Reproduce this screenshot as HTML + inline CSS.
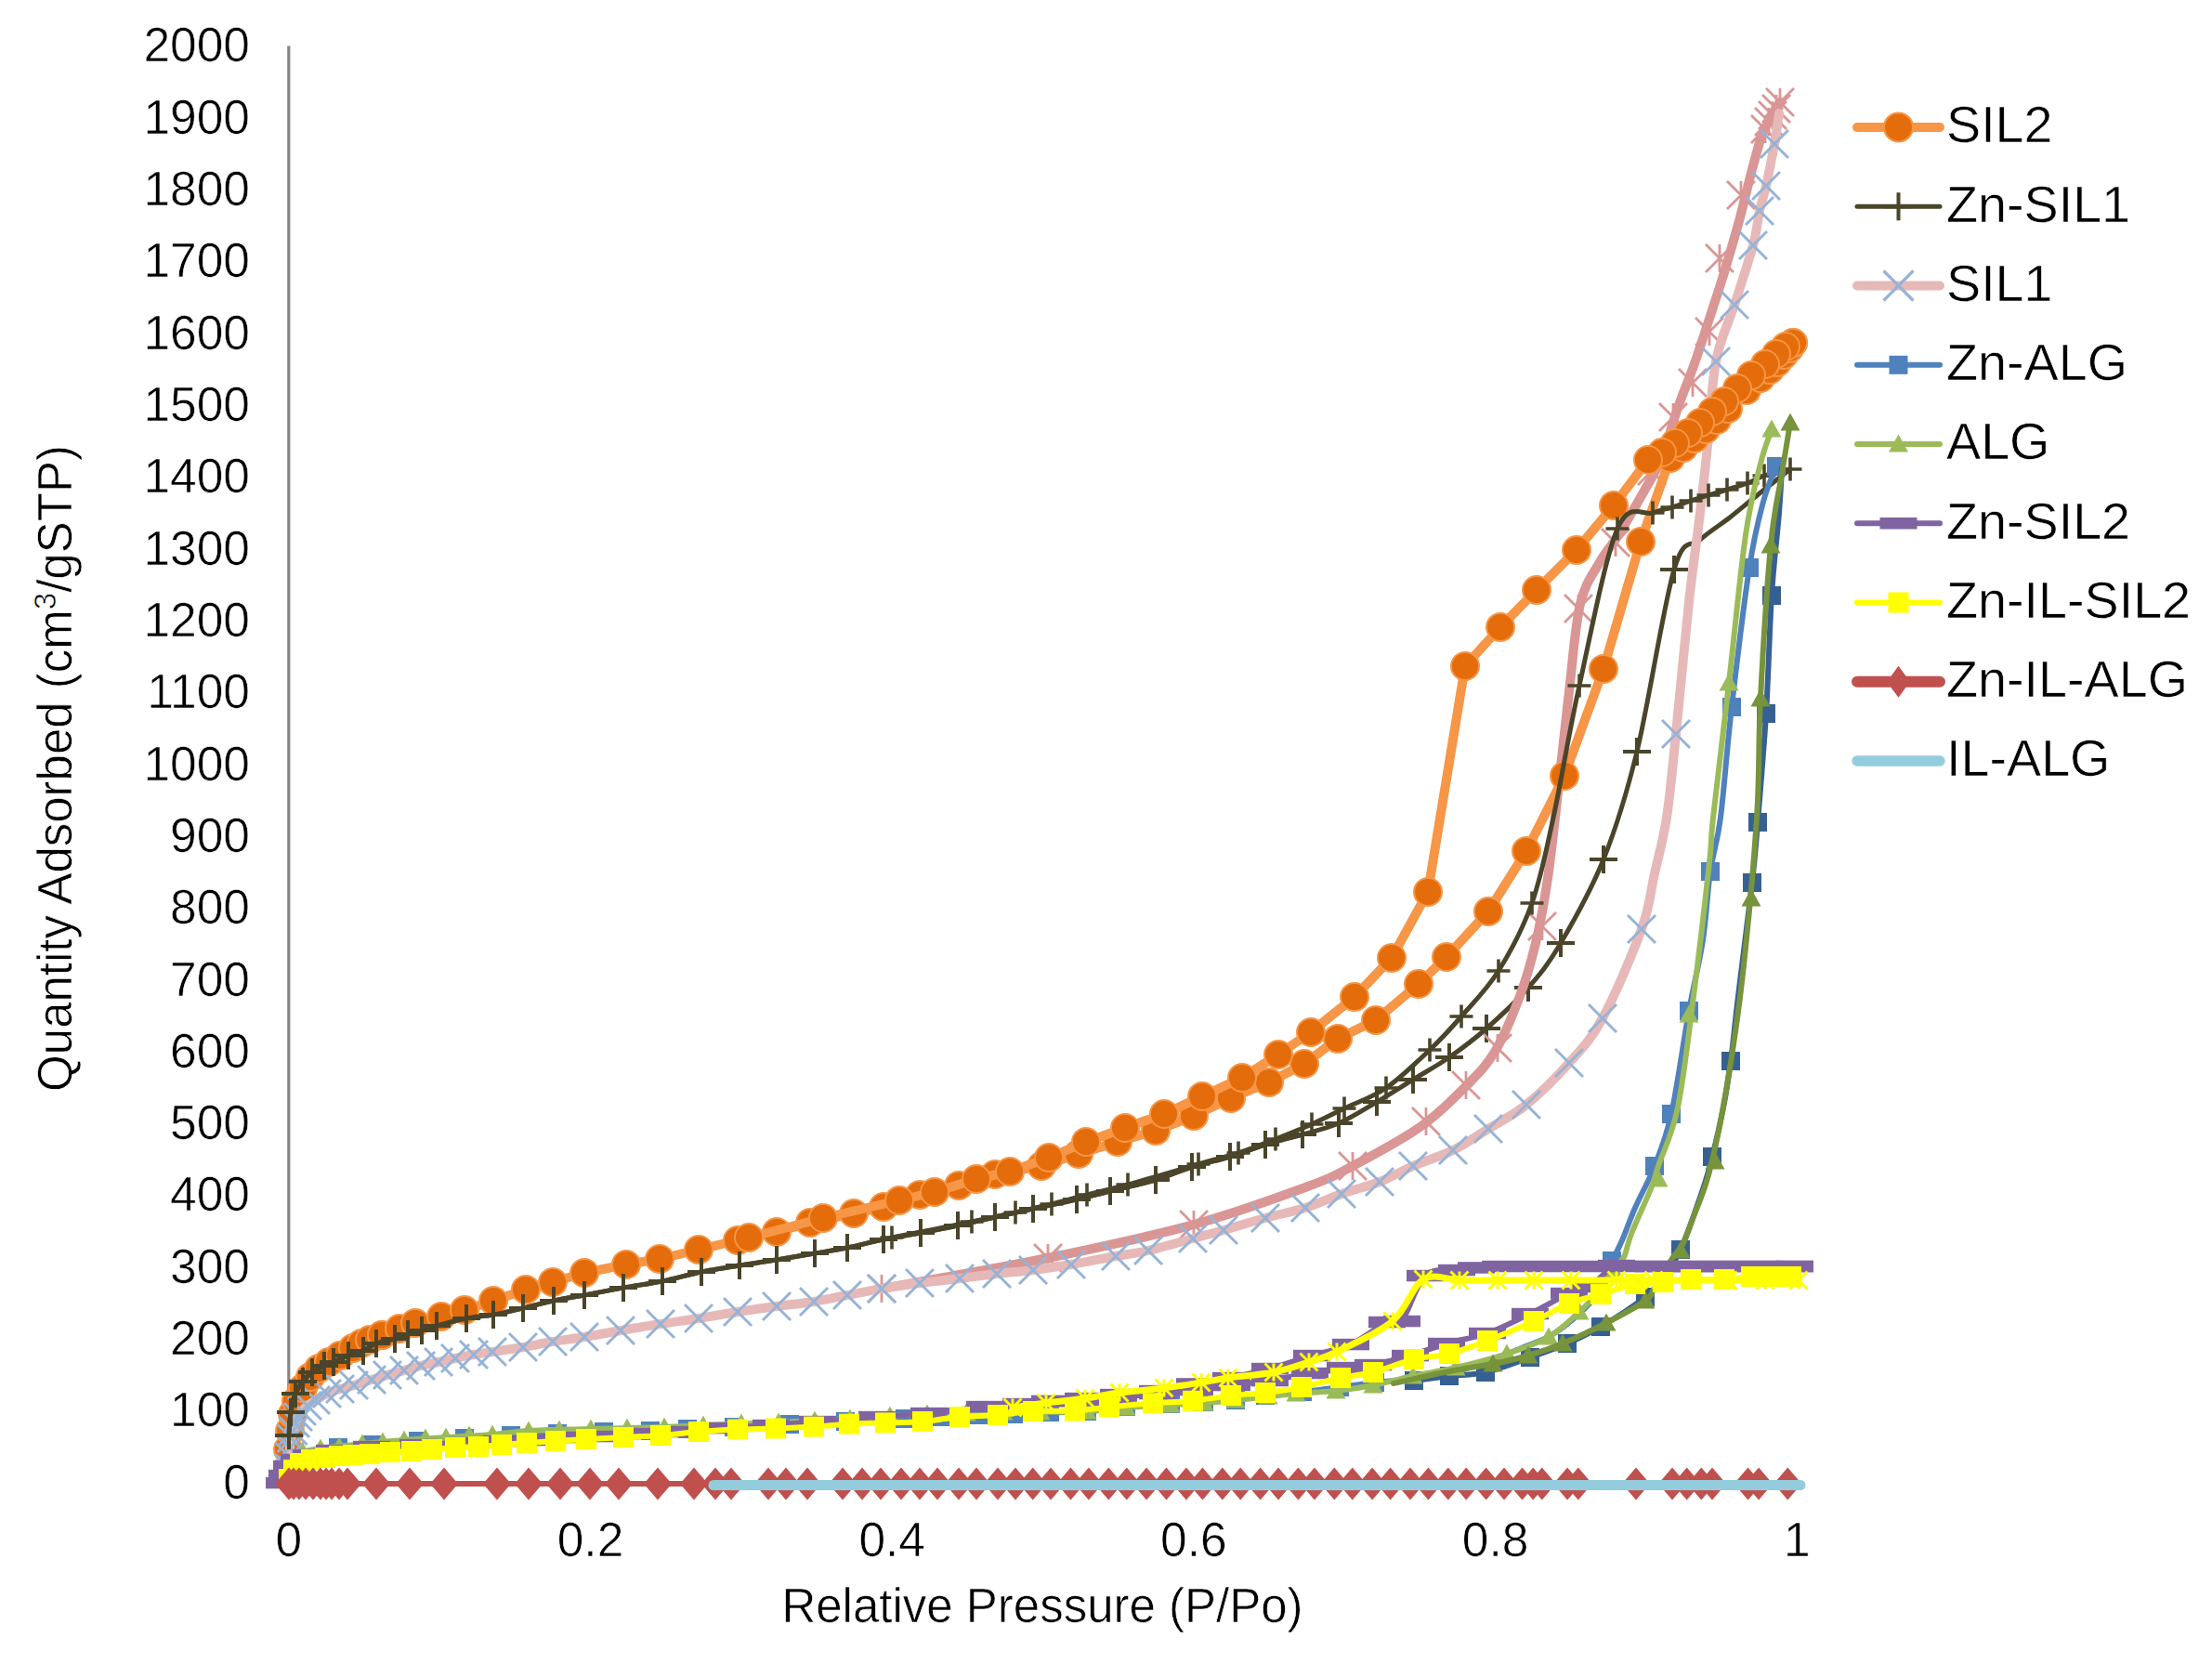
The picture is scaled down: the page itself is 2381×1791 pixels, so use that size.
<!DOCTYPE html><html><head><meta charset="utf-8"><style>html,body{margin:0;padding:0;background:#fff;width:2381px;height:1791px;overflow:hidden}svg{display:block}text{font-family:"Liberation Sans", Arial, sans-serif;fill:#000;stroke:#fff;stroke-width:0.6px}</style></head><body>
<svg width="2381" height="1791" viewBox="0 0 2381 1791">
<rect width="2381" height="1791" fill="#fff"/>
<line x1="310.8" y1="49.6" x2="310.8" y2="1596" stroke="#868686" stroke-width="3.2"/>
<line x1="309" y1="1595.5" x2="1934.5" y2="1595.5" stroke="#868686" stroke-width="3.2"/>
<text x="269" y="1612.7" font-size="51.5" text-anchor="end">0</text>
<text x="269" y="1535.4" font-size="51.5" text-anchor="end">100</text>
<text x="269" y="1458.1" font-size="51.5" text-anchor="end">200</text>
<text x="269" y="1380.8" font-size="51.5" text-anchor="end">300</text>
<text x="269" y="1303.4" font-size="51.5" text-anchor="end">400</text>
<text x="269" y="1226.1" font-size="51.5" text-anchor="end">500</text>
<text x="269" y="1148.8" font-size="51.5" text-anchor="end">600</text>
<text x="269" y="1071.5" font-size="51.5" text-anchor="end">700</text>
<text x="269" y="994.1" font-size="51.5" text-anchor="end">800</text>
<text x="269" y="916.8" font-size="51.5" text-anchor="end">900</text>
<text x="269" y="839.5" font-size="51.5" text-anchor="end">1000</text>
<text x="269" y="762.2" font-size="51.5" text-anchor="end">1100</text>
<text x="269" y="684.8" font-size="51.5" text-anchor="end">1200</text>
<text x="269" y="607.5" font-size="51.5" text-anchor="end">1300</text>
<text x="269" y="530.2" font-size="51.5" text-anchor="end">1400</text>
<text x="269" y="452.9" font-size="51.5" text-anchor="end">1500</text>
<text x="269" y="375.5" font-size="51.5" text-anchor="end">1600</text>
<text x="269" y="298.2" font-size="51.5" text-anchor="end">1700</text>
<text x="269" y="220.9" font-size="51.5" text-anchor="end">1800</text>
<text x="269" y="143.6" font-size="51.5" text-anchor="end">1900</text>
<text x="269" y="66.2" font-size="51.5" text-anchor="end">2000</text>
<text x="310.8" y="1675" font-size="51.5" text-anchor="middle">0</text>
<text x="635.5" y="1675" font-size="51.5" text-anchor="middle">0.2</text>
<text x="960.2" y="1675" font-size="51.5" text-anchor="middle">0.4</text>
<text x="1284.9" y="1675" font-size="51.5" text-anchor="middle">0.6</text>
<text x="1609.6" y="1675" font-size="51.5" text-anchor="middle">0.8</text>
<text x="1934.3" y="1675" font-size="51.5" text-anchor="middle">1</text>
<text x="1122" y="1745.5" font-size="51" text-anchor="middle">Relative Pressure (P/Po)</text>
<text transform="translate(76.8 827) rotate(-90)" font-size="51" text-anchor="middle">Quantity Adsorbed (cm<tspan font-size="33" dy="-17">3</tspan><tspan dy="17">/gSTP)</tspan></text>
<path d="M310 1560 L312 1540 L315 1522 L319 1508 L326 1494 L334 1482 L343 1473 L354 1466 L366 1459 L380 1451 L389 1446 L398 1442 L411 1437" fill="none" stroke="#F79646" stroke-width="10" stroke-linejoin="round" stroke-linecap="round"/>
<circle cx="310" cy="1560" r="15" fill="#E46C0A" stroke="#F79646" stroke-width="2"/>
<circle cx="312" cy="1540" r="15" fill="#E46C0A" stroke="#F79646" stroke-width="2"/>
<circle cx="315" cy="1522" r="15" fill="#E46C0A" stroke="#F79646" stroke-width="2"/>
<circle cx="319" cy="1508" r="15" fill="#E46C0A" stroke="#F79646" stroke-width="2"/>
<circle cx="326" cy="1494" r="15" fill="#E46C0A" stroke="#F79646" stroke-width="2"/>
<circle cx="334" cy="1482" r="15" fill="#E46C0A" stroke="#F79646" stroke-width="2"/>
<circle cx="343" cy="1473" r="15" fill="#E46C0A" stroke="#F79646" stroke-width="2"/>
<circle cx="354" cy="1466" r="15" fill="#E46C0A" stroke="#F79646" stroke-width="2"/>
<circle cx="366" cy="1459" r="15" fill="#E46C0A" stroke="#F79646" stroke-width="2"/>
<circle cx="380" cy="1451" r="15" fill="#E46C0A" stroke="#F79646" stroke-width="2"/>
<circle cx="389" cy="1446" r="15" fill="#E46C0A" stroke="#F79646" stroke-width="2"/>
<circle cx="398" cy="1442" r="15" fill="#E46C0A" stroke="#F79646" stroke-width="2"/>
<circle cx="411" cy="1437" r="15" fill="#E46C0A" stroke="#F79646" stroke-width="2"/>
<path d="M311 1545 C311.3 1540.8 311.8 1527.5 313 1520 C314.2 1512.5 315.8 1505.5 318 1500 C320.2 1494.5 323 1490.8 326 1487 C329 1483.2 332.2 1479.8 336 1477 C339.8 1474.2 345.2 1471.8 349 1470 C352.8 1468.2 354.7 1467.8 359 1466 C363.3 1464.2 369.7 1461 375 1459 C380.3 1457 386 1456.2 391 1454 C396 1451.8 399.3 1448.2 405 1446 C410.7 1443.8 419.3 1442.7 425 1441 C430.7 1439.3 434.2 1437.5 439 1436 C443.8 1434.5 448.8 1433.5 454 1432 C459.2 1430.5 462 1429.2 470 1427 C478 1424.8 491.8 1421 502 1419 C512.2 1417 520.8 1416.8 531 1415 C541.2 1413.2 552.2 1410.5 563 1408 C573.8 1405.5 585 1402.3 596 1400 C607 1397.7 616.5 1396.3 629 1394 C641.5 1391.7 657 1388.5 671 1386 C685 1383.5 699 1381.8 713 1379 C727 1376.2 741.2 1371.8 755 1369 C768.8 1366.2 782.5 1364.2 796 1362 C809.5 1359.8 822.5 1358.2 836 1356 C849.5 1353.8 864.3 1351.2 877 1349 C889.7 1346.8 899.7 1345.5 912 1343 C924.3 1340.5 937.8 1336.7 951 1334 C964.2 1331.3 977.7 1329.5 991 1327 C1004.3 1324.5 1017.7 1321.8 1031 1319 C1044.3 1316.2 1057.5 1313 1071 1310 C1084.5 1307 1097.3 1304.2 1112 1301 C1126.7 1297.8 1145.2 1294.2 1159 1291 C1172.8 1287.8 1180.8 1285.5 1195 1282 C1209.2 1278.5 1229.3 1274.3 1244 1270 C1258.7 1265.7 1269.7 1260.2 1283 1256 C1296.3 1251.8 1310.8 1249 1324 1245 C1337.2 1241 1349 1236 1362 1232 C1375 1228 1388.8 1224.8 1402 1221 C1415.2 1217.2 1427.7 1214.8 1441 1209 C1454.3 1203.2 1468.7 1193.8 1482 1186 C1495.3 1178.2 1508 1170 1521 1162 C1534 1154 1546.8 1147.2 1560 1138 C1573.2 1128.8 1585.8 1119.5 1600 1107 C1614.2 1094.5 1631.7 1078.3 1645 1063 C1658.3 1047.7 1666.5 1038 1680 1015 C1693.5 992 1712.3 959.3 1726 925 C1739.7 890.7 1749.3 861 1762 809 C1774.7 757 1790.7 651 1802 613 C1813.3 575 1820 590.3 1830 581 C1840 571.7 1852.2 564.7 1862 557 C1871.8 549.3 1878.2 543.7 1889 535 C1899.8 526.3 1920.7 510 1927 505" fill="none" stroke="#4A452A" stroke-width="5" stroke-linejoin="round" stroke-linecap="round"/>
<path d="M311 1530v30M296 1545h30" stroke="#4A452A" stroke-width="4" fill="none"/>
<path d="M313 1505v30M298 1520h30" stroke="#4A452A" stroke-width="4" fill="none"/>
<path d="M318 1485v30M303 1500h30" stroke="#4A452A" stroke-width="4" fill="none"/>
<path d="M326 1472v30M311 1487h30" stroke="#4A452A" stroke-width="4" fill="none"/>
<path d="M336 1462v30M321 1477h30" stroke="#4A452A" stroke-width="4" fill="none"/>
<path d="M349 1455v30M334 1470h30" stroke="#4A452A" stroke-width="4" fill="none"/>
<path d="M359 1451v30M344 1466h30" stroke="#4A452A" stroke-width="4" fill="none"/>
<path d="M375 1444v30M360 1459h30" stroke="#4A452A" stroke-width="4" fill="none"/>
<path d="M391 1439v30M376 1454h30" stroke="#4A452A" stroke-width="4" fill="none"/>
<path d="M405 1431v30M390 1446h30" stroke="#4A452A" stroke-width="4" fill="none"/>
<path d="M425 1426v30M410 1441h30" stroke="#4A452A" stroke-width="4" fill="none"/>
<path d="M439 1421v30M424 1436h30" stroke="#4A452A" stroke-width="4" fill="none"/>
<path d="M454 1417v30M439 1432h30" stroke="#4A452A" stroke-width="4" fill="none"/>
<path d="M470 1412v30M455 1427h30" stroke="#4A452A" stroke-width="4" fill="none"/>
<path d="M502 1404v30M487 1419h30" stroke="#4A452A" stroke-width="4" fill="none"/>
<path d="M531 1400v30M516 1415h30" stroke="#4A452A" stroke-width="4" fill="none"/>
<path d="M563 1393v30M548 1408h30" stroke="#4A452A" stroke-width="4" fill="none"/>
<path d="M596 1385v30M581 1400h30" stroke="#4A452A" stroke-width="4" fill="none"/>
<path d="M629 1379v30M614 1394h30" stroke="#4A452A" stroke-width="4" fill="none"/>
<path d="M671 1371v30M656 1386h30" stroke="#4A452A" stroke-width="4" fill="none"/>
<path d="M713 1364v30M698 1379h30" stroke="#4A452A" stroke-width="4" fill="none"/>
<path d="M755 1354v30M740 1369h30" stroke="#4A452A" stroke-width="4" fill="none"/>
<path d="M796 1347v30M781 1362h30" stroke="#4A452A" stroke-width="4" fill="none"/>
<path d="M836 1341v30M821 1356h30" stroke="#4A452A" stroke-width="4" fill="none"/>
<path d="M877 1334v30M862 1349h30" stroke="#4A452A" stroke-width="4" fill="none"/>
<path d="M912 1328v30M897 1343h30" stroke="#4A452A" stroke-width="4" fill="none"/>
<path d="M951 1319v30M936 1334h30" stroke="#4A452A" stroke-width="4" fill="none"/>
<path d="M991 1312v30M976 1327h30" stroke="#4A452A" stroke-width="4" fill="none"/>
<path d="M1031 1304v30M1016 1319h30" stroke="#4A452A" stroke-width="4" fill="none"/>
<path d="M1071 1295v30M1056 1310h30" stroke="#4A452A" stroke-width="4" fill="none"/>
<path d="M1112 1286v30M1097 1301h30" stroke="#4A452A" stroke-width="4" fill="none"/>
<path d="M1159 1276v30M1144 1291h30" stroke="#4A452A" stroke-width="4" fill="none"/>
<path d="M1195 1267v30M1180 1282h30" stroke="#4A452A" stroke-width="4" fill="none"/>
<path d="M1244 1255v30M1229 1270h30" stroke="#4A452A" stroke-width="4" fill="none"/>
<path d="M1283 1241v30M1268 1256h30" stroke="#4A452A" stroke-width="4" fill="none"/>
<path d="M1324 1230v30M1309 1245h30" stroke="#4A452A" stroke-width="4" fill="none"/>
<path d="M1362 1217v30M1347 1232h30" stroke="#4A452A" stroke-width="4" fill="none"/>
<path d="M1402 1206v30M1387 1221h30" stroke="#4A452A" stroke-width="4" fill="none"/>
<path d="M1441 1194v30M1426 1209h30" stroke="#4A452A" stroke-width="4" fill="none"/>
<path d="M1482 1171v30M1467 1186h30" stroke="#4A452A" stroke-width="4" fill="none"/>
<path d="M1521 1147v30M1506 1162h30" stroke="#4A452A" stroke-width="4" fill="none"/>
<path d="M1560 1123v30M1545 1138h30" stroke="#4A452A" stroke-width="4" fill="none"/>
<path d="M1600 1092v30M1585 1107h30" stroke="#4A452A" stroke-width="4" fill="none"/>
<path d="M1645 1048v30M1630 1063h30" stroke="#4A452A" stroke-width="4" fill="none"/>
<path d="M1680 1000v30M1665 1015h30" stroke="#4A452A" stroke-width="4" fill="none"/>
<path d="M1726 910v30M1711 925h30" stroke="#4A452A" stroke-width="4" fill="none"/>
<path d="M1762 794v30M1747 809h30" stroke="#4A452A" stroke-width="4" fill="none"/>
<path d="M1802 598v30M1787 613h30" stroke="#4A452A" stroke-width="4" fill="none"/>
<path d="M1916 110 C1915.3 111 1913.5 113.7 1912 116 C1910.5 118.3 1909 120.3 1907 124 C1905 127.7 1902 133.7 1900 138 C1898 142.3 1897.5 142 1895 150 C1892.5 158 1888.7 172 1885 186 C1881.3 200 1877.3 217.8 1873 234 C1868.7 250.2 1862.5 271 1859 283 C1855.5 295 1855.3 295.5 1852 306 C1848.7 316.5 1843.8 331.3 1839 346 C1834.2 360.7 1828.5 378.5 1823 394 C1817.5 409.5 1811.8 422.3 1806 439 C1800.2 455.7 1794 479.2 1788 494 C1782 508.8 1777.7 514.3 1770 528 C1762.3 541.7 1750 563.2 1742 576 C1734 588.8 1728.8 592.7 1722 605 C1715.2 617.3 1706.5 626.8 1701 650 C1695.5 673.2 1693.5 705.7 1689 744 C1684.5 782.3 1678 845.3 1674 880 C1670 914.7 1668.5 929.5 1665 952 C1661.5 974.5 1657.8 995 1653 1015 C1648.2 1035 1643.3 1052.5 1636 1072 C1628.7 1091.5 1618.7 1115.8 1609 1132 C1599.3 1148.2 1591.2 1155.7 1578 1169 C1564.8 1182.3 1550.3 1197.7 1530 1212 C1509.7 1226.3 1476.8 1244 1456 1255 C1435.2 1266 1433.5 1267.5 1405 1278 C1376.5 1288.5 1331.2 1305.3 1285 1318 C1238.8 1330.7 1184 1342.5 1128 1354 C1072 1365.5 978.8 1381.5 949 1387" fill="none" stroke="#D99694" stroke-width="10" stroke-linejoin="round" stroke-linecap="round"/>
<path d="M1901 95l30 30M1901 125l30 -30M1916 95v30" stroke="#D99694" stroke-width="2.8" fill="none"/>
<path d="M1897 102l30 30M1897 132l30 -30M1912 102v30" stroke="#D99694" stroke-width="2.8" fill="none"/>
<path d="M1893 109l30 30M1893 139l30 -30M1908 109v30" stroke="#D99694" stroke-width="2.8" fill="none"/>
<path d="M1889 116l30 30M1889 146l30 -30M1904 116v30" stroke="#D99694" stroke-width="2.8" fill="none"/>
<path d="M1885 124l30 30M1885 154l30 -30M1900 124v30" stroke="#D99694" stroke-width="2.8" fill="none"/>
<path d="M1859 195l30 30M1859 225l30 -30M1874 195v30" stroke="#D99694" stroke-width="2.8" fill="none"/>
<path d="M1836 263l30 30M1836 293l30 -30M1851 263v30" stroke="#D99694" stroke-width="2.8" fill="none"/>
<path d="M1825 342l30 30M1825 372l30 -30M1840 342v30" stroke="#D99694" stroke-width="2.8" fill="none"/>
<path d="M1807 397l30 30M1807 427l30 -30M1822 397v30" stroke="#D99694" stroke-width="2.8" fill="none"/>
<path d="M1786 434l30 30M1786 464l30 -30M1801 434v30" stroke="#D99694" stroke-width="2.8" fill="none"/>
<path d="M1763 492l30 30M1763 522l30 -30M1778 492v30" stroke="#D99694" stroke-width="2.8" fill="none"/>
<path d="M1724 569l30 30M1724 599l30 -30M1739 569v30" stroke="#D99694" stroke-width="2.8" fill="none"/>
<path d="M1684 640l30 30M1684 670l30 -30M1699 640v30" stroke="#D99694" stroke-width="2.8" fill="none"/>
<path d="M1645 982l30 30M1645 1012l30 -30M1660 982v30" stroke="#D99694" stroke-width="2.8" fill="none"/>
<path d="M1597 1113l30 30M1597 1143l30 -30M1612 1113v30" stroke="#D99694" stroke-width="2.8" fill="none"/>
<path d="M1563 1153l30 30M1563 1183l30 -30M1578 1153v30" stroke="#D99694" stroke-width="2.8" fill="none"/>
<path d="M1520 1192l30 30M1520 1222l30 -30M1535 1192v30" stroke="#D99694" stroke-width="2.8" fill="none"/>
<path d="M1441 1240l30 30M1441 1270l30 -30M1456 1240v30" stroke="#D99694" stroke-width="2.8" fill="none"/>
<path d="M1270 1303l30 30M1270 1333l30 -30M1285 1303v30" stroke="#D99694" stroke-width="2.8" fill="none"/>
<path d="M1113 1339l30 30M1113 1369l30 -30M1128 1339v30" stroke="#D99694" stroke-width="2.8" fill="none"/>
<path d="M934 1372l30 30M934 1402l30 -30M949 1372v30" stroke="#D99694" stroke-width="2.8" fill="none"/>
<path d="M311 1580 C311.1 1578 311.3 1571.7 311.5 1568 C311.7 1564.3 311.7 1561.3 312 1558 C312.3 1554.7 312.9 1551 313.5 1548 C314.1 1545 314.8 1542.7 315.5 1540 C316.2 1537.3 317.1 1534.5 318 1532 C318.9 1529.5 319.8 1527.2 321 1525 C322.2 1522.8 323.3 1521 325 1519 C326.7 1517 328.5 1515 331 1513 C333.5 1511 336.5 1509.2 340 1507 C343.5 1504.8 347.7 1502 352 1500 C356.3 1498 361.2 1496.5 366 1495 C370.8 1493.5 375.3 1492.7 381 1491 C386.7 1489.3 394 1486.8 400 1485 C406 1483.2 411.2 1481.7 417 1480 C422.8 1478.3 429 1476.7 435 1475 C441 1473.3 446.8 1471.5 453 1470 C459.2 1468.5 465.8 1467.3 472 1466 C478.2 1464.7 483.7 1463.3 490 1462 C496.3 1460.7 503.3 1459.2 510 1458 C516.7 1456.8 521.2 1456.3 530 1455 C538.8 1453.7 552.2 1451.8 563 1450 C573.8 1448.2 584 1445.8 595 1444 C606 1442.2 616.8 1441 629 1439 C641.2 1437 654.3 1434.3 668 1432 C681.7 1429.7 697 1427.2 711 1425 C725 1422.8 738.2 1421.2 752 1419 C765.8 1416.8 780 1414.2 794 1412 C808 1409.8 822.3 1407.8 836 1406 C849.7 1404.2 863.3 1403 876 1401 C888.7 1399 899.8 1396.3 912 1394 C924.2 1391.7 936 1389.2 949 1387 C962 1384.8 976 1382.8 990 1381 C1004 1379.2 1019.2 1377.7 1033 1376 C1046.8 1374.3 1059.8 1372.5 1073 1371 C1086.2 1369.5 1098.7 1368.7 1112 1367 C1125.3 1365.3 1138.2 1363.5 1153 1361 C1167.8 1358.5 1187.2 1354.5 1201 1352 C1214.8 1349.5 1222.2 1349.2 1236 1346 C1249.8 1342.8 1270.5 1336.7 1284 1333 C1297.5 1329.3 1304 1327.7 1317 1324 C1330 1320.3 1347.3 1315 1362 1311 C1376.7 1307 1391.3 1304.3 1405 1300 C1418.7 1295.7 1430.7 1289.7 1444 1285 C1457.3 1280.3 1472.2 1277 1485 1272 C1497.8 1267 1507.8 1260.7 1521 1255 C1534.2 1249.3 1550.5 1244.7 1564 1238 C1577.5 1231.3 1588.8 1223.2 1602 1215 C1615.2 1206.8 1628.5 1200.8 1643 1189 C1657.5 1177.2 1675.3 1159.5 1689 1144 C1702.7 1128.5 1712 1120 1725 1096 C1738 1072 1757.7 1026 1767 1000 C1776.3 974 1776.5 960 1781 940 C1785.5 920 1790.2 905 1794 880 C1797.8 855 1800 828.7 1804 790 C1808 751.3 1813.7 687.7 1818 648 C1822.3 608.3 1826.7 580 1830 552 C1833.3 524 1835.2 507.2 1838 480 C1840.8 452.8 1842.2 414.3 1847 389 C1851.8 363.7 1860.3 348.8 1867 328 C1873.7 307.2 1882.5 280.8 1887 264 C1891.5 247.2 1891.7 237.7 1894 227 C1896.3 216.3 1898.3 212 1901 200 C1903.7 188 1907.7 168 1910 155 C1912.3 142 1914.2 127.5 1915 122" fill="none" stroke="#E6B9B8" stroke-width="10" stroke-linejoin="round" stroke-linecap="round"/>
<path d="M296 1565l30 30M296 1595l30 -30" stroke="#95B3D7" stroke-width="2.9" fill="none"/>
<path d="M296.5 1553l30 30M296.5 1583l30 -30" stroke="#95B3D7" stroke-width="2.9" fill="none"/>
<path d="M297 1543l30 30M297 1573l30 -30" stroke="#95B3D7" stroke-width="2.9" fill="none"/>
<path d="M298.5 1533l30 30M298.5 1563l30 -30" stroke="#95B3D7" stroke-width="2.9" fill="none"/>
<path d="M300.5 1525l30 30M300.5 1555l30 -30" stroke="#95B3D7" stroke-width="2.9" fill="none"/>
<path d="M303 1517l30 30M303 1547l30 -30" stroke="#95B3D7" stroke-width="2.9" fill="none"/>
<path d="M306 1510l30 30M306 1540l30 -30" stroke="#95B3D7" stroke-width="2.9" fill="none"/>
<path d="M310 1504l30 30M310 1534l30 -30" stroke="#95B3D7" stroke-width="2.9" fill="none"/>
<path d="M316 1498l30 30M316 1528l30 -30" stroke="#95B3D7" stroke-width="2.9" fill="none"/>
<path d="M325 1492l30 30M325 1522l30 -30" stroke="#95B3D7" stroke-width="2.9" fill="none"/>
<path d="M337 1485l30 30M337 1515l30 -30" stroke="#95B3D7" stroke-width="2.9" fill="none"/>
<path d="M351 1480l30 30M351 1510l30 -30" stroke="#95B3D7" stroke-width="2.9" fill="none"/>
<path d="M366 1476l30 30M366 1506l30 -30" stroke="#95B3D7" stroke-width="2.9" fill="none"/>
<path d="M385 1470l30 30M385 1500l30 -30" stroke="#95B3D7" stroke-width="2.9" fill="none"/>
<path d="M402 1465l30 30M402 1495l30 -30" stroke="#95B3D7" stroke-width="2.9" fill="none"/>
<path d="M420 1460l30 30M420 1490l30 -30" stroke="#95B3D7" stroke-width="2.9" fill="none"/>
<path d="M438 1455l30 30M438 1485l30 -30" stroke="#95B3D7" stroke-width="2.9" fill="none"/>
<path d="M457 1451l30 30M457 1481l30 -30" stroke="#95B3D7" stroke-width="2.9" fill="none"/>
<path d="M475 1447l30 30M475 1477l30 -30" stroke="#95B3D7" stroke-width="2.9" fill="none"/>
<path d="M495 1443l30 30M495 1473l30 -30" stroke="#95B3D7" stroke-width="2.9" fill="none"/>
<path d="M515 1440l30 30M515 1470l30 -30" stroke="#95B3D7" stroke-width="2.9" fill="none"/>
<path d="M548 1435l30 30M548 1465l30 -30" stroke="#95B3D7" stroke-width="2.9" fill="none"/>
<path d="M580 1429l30 30M580 1459l30 -30" stroke="#95B3D7" stroke-width="2.9" fill="none"/>
<path d="M614 1424l30 30M614 1454l30 -30" stroke="#95B3D7" stroke-width="2.9" fill="none"/>
<path d="M653 1417l30 30M653 1447l30 -30" stroke="#95B3D7" stroke-width="2.9" fill="none"/>
<path d="M696 1410l30 30M696 1440l30 -30" stroke="#95B3D7" stroke-width="2.9" fill="none"/>
<path d="M737 1404l30 30M737 1434l30 -30" stroke="#95B3D7" stroke-width="2.9" fill="none"/>
<path d="M779 1397l30 30M779 1427l30 -30" stroke="#95B3D7" stroke-width="2.9" fill="none"/>
<path d="M821 1391l30 30M821 1421l30 -30" stroke="#95B3D7" stroke-width="2.9" fill="none"/>
<path d="M861 1386l30 30M861 1416l30 -30" stroke="#95B3D7" stroke-width="2.9" fill="none"/>
<path d="M897 1379l30 30M897 1409l30 -30" stroke="#95B3D7" stroke-width="2.9" fill="none"/>
<path d="M934 1372l30 30M934 1402l30 -30" stroke="#95B3D7" stroke-width="2.9" fill="none"/>
<path d="M975 1366l30 30M975 1396l30 -30" stroke="#95B3D7" stroke-width="2.9" fill="none"/>
<path d="M1018 1361l30 30M1018 1391l30 -30" stroke="#95B3D7" stroke-width="2.9" fill="none"/>
<path d="M1058 1356l30 30M1058 1386l30 -30" stroke="#95B3D7" stroke-width="2.9" fill="none"/>
<path d="M1097 1352l30 30M1097 1382l30 -30" stroke="#95B3D7" stroke-width="2.9" fill="none"/>
<path d="M1138 1346l30 30M1138 1376l30 -30" stroke="#95B3D7" stroke-width="2.9" fill="none"/>
<path d="M1186 1337l30 30M1186 1367l30 -30" stroke="#95B3D7" stroke-width="2.9" fill="none"/>
<path d="M1221 1331l30 30M1221 1361l30 -30" stroke="#95B3D7" stroke-width="2.9" fill="none"/>
<path d="M1269 1318l30 30M1269 1348l30 -30" stroke="#95B3D7" stroke-width="2.9" fill="none"/>
<path d="M1302 1309l30 30M1302 1339l30 -30" stroke="#95B3D7" stroke-width="2.9" fill="none"/>
<path d="M1347 1296l30 30M1347 1326l30 -30" stroke="#95B3D7" stroke-width="2.9" fill="none"/>
<path d="M1390 1285l30 30M1390 1315l30 -30" stroke="#95B3D7" stroke-width="2.9" fill="none"/>
<path d="M1429 1270l30 30M1429 1300l30 -30" stroke="#95B3D7" stroke-width="2.9" fill="none"/>
<path d="M1470 1257l30 30M1470 1287l30 -30" stroke="#95B3D7" stroke-width="2.9" fill="none"/>
<path d="M1506 1240l30 30M1506 1270l30 -30" stroke="#95B3D7" stroke-width="2.9" fill="none"/>
<path d="M1549 1223l30 30M1549 1253l30 -30" stroke="#95B3D7" stroke-width="2.9" fill="none"/>
<path d="M1587 1200l30 30M1587 1230l30 -30" stroke="#95B3D7" stroke-width="2.9" fill="none"/>
<path d="M1628 1174l30 30M1628 1204l30 -30" stroke="#95B3D7" stroke-width="2.9" fill="none"/>
<path d="M1674 1129l30 30M1674 1159l30 -30" stroke="#95B3D7" stroke-width="2.9" fill="none"/>
<path d="M1710 1081l30 30M1710 1111l30 -30" stroke="#95B3D7" stroke-width="2.9" fill="none"/>
<path d="M1752 985l30 30M1752 1015l30 -30" stroke="#95B3D7" stroke-width="2.9" fill="none"/>
<path d="M1789 775l30 30M1789 805l30 -30" stroke="#95B3D7" stroke-width="2.9" fill="none"/>
<path d="M1832 374l30 30M1832 404l30 -30" stroke="#95B3D7" stroke-width="2.9" fill="none"/>
<path d="M1852 313l30 30M1852 343l30 -30" stroke="#95B3D7" stroke-width="2.9" fill="none"/>
<path d="M1872 249l30 30M1872 279l30 -30" stroke="#95B3D7" stroke-width="2.9" fill="none"/>
<path d="M1879 212l30 30M1879 242l30 -30" stroke="#95B3D7" stroke-width="2.9" fill="none"/>
<path d="M1886 185l30 30M1886 215l30 -30" stroke="#95B3D7" stroke-width="2.9" fill="none"/>
<path d="M1895 140l30 30M1895 170l30 -30" stroke="#95B3D7" stroke-width="2.9" fill="none"/>
<path d="M411 1437 L430 1430 L447 1424 L475 1417 L500 1410 L531 1400 L566 1388 L595 1380 L629 1370 L674 1361 L710 1355 L752 1345 L794 1335 L836 1326 L872 1316 L919 1306 L951 1299 L990 1286 L1032 1276 L1071 1264 L1121 1255 L1161 1242 L1203 1229 L1244 1217 L1285 1201 L1325 1182 L1366 1165 L1404 1145 L1440 1118 L1481 1098 L1527 1059 L1557 1030 L1602 981 L1643 916 L1684 835 L1726 720 L1766 583 L1798 493 L1812 482 L1824 472 L1836 462 L1848 452 L1860 440 L1880 420 L1895 407 L1905 398 L1913 390 L1920 382 L1926 375 L1930 369" fill="none" stroke="#F79646" stroke-width="10" stroke-linejoin="round" stroke-linecap="round"/>
<circle cx="411" cy="1437" r="15" fill="#E46C0A" stroke="#F79646" stroke-width="2"/>
<circle cx="430" cy="1430" r="15" fill="#E46C0A" stroke="#F79646" stroke-width="2"/>
<circle cx="447" cy="1424" r="15" fill="#E46C0A" stroke="#F79646" stroke-width="2"/>
<circle cx="475" cy="1417" r="15" fill="#E46C0A" stroke="#F79646" stroke-width="2"/>
<circle cx="500" cy="1410" r="15" fill="#E46C0A" stroke="#F79646" stroke-width="2"/>
<circle cx="531" cy="1400" r="15" fill="#E46C0A" stroke="#F79646" stroke-width="2"/>
<circle cx="566" cy="1388" r="15" fill="#E46C0A" stroke="#F79646" stroke-width="2"/>
<circle cx="595" cy="1380" r="15" fill="#E46C0A" stroke="#F79646" stroke-width="2"/>
<circle cx="629" cy="1370" r="15" fill="#E46C0A" stroke="#F79646" stroke-width="2"/>
<circle cx="674" cy="1361" r="15" fill="#E46C0A" stroke="#F79646" stroke-width="2"/>
<circle cx="710" cy="1355" r="15" fill="#E46C0A" stroke="#F79646" stroke-width="2"/>
<circle cx="752" cy="1345" r="15" fill="#E46C0A" stroke="#F79646" stroke-width="2"/>
<circle cx="794" cy="1335" r="15" fill="#E46C0A" stroke="#F79646" stroke-width="2"/>
<circle cx="836" cy="1326" r="15" fill="#E46C0A" stroke="#F79646" stroke-width="2"/>
<circle cx="872" cy="1316" r="15" fill="#E46C0A" stroke="#F79646" stroke-width="2"/>
<circle cx="919" cy="1306" r="15" fill="#E46C0A" stroke="#F79646" stroke-width="2"/>
<circle cx="951" cy="1299" r="15" fill="#E46C0A" stroke="#F79646" stroke-width="2"/>
<circle cx="990" cy="1286" r="15" fill="#E46C0A" stroke="#F79646" stroke-width="2"/>
<circle cx="1032" cy="1276" r="15" fill="#E46C0A" stroke="#F79646" stroke-width="2"/>
<circle cx="1071" cy="1264" r="15" fill="#E46C0A" stroke="#F79646" stroke-width="2"/>
<circle cx="1121" cy="1255" r="15" fill="#E46C0A" stroke="#F79646" stroke-width="2"/>
<circle cx="1161" cy="1242" r="15" fill="#E46C0A" stroke="#F79646" stroke-width="2"/>
<circle cx="1203" cy="1229" r="15" fill="#E46C0A" stroke="#F79646" stroke-width="2"/>
<circle cx="1244" cy="1217" r="15" fill="#E46C0A" stroke="#F79646" stroke-width="2"/>
<circle cx="1285" cy="1201" r="15" fill="#E46C0A" stroke="#F79646" stroke-width="2"/>
<circle cx="1325" cy="1182" r="15" fill="#E46C0A" stroke="#F79646" stroke-width="2"/>
<circle cx="1366" cy="1165" r="15" fill="#E46C0A" stroke="#F79646" stroke-width="2"/>
<circle cx="1404" cy="1145" r="15" fill="#E46C0A" stroke="#F79646" stroke-width="2"/>
<circle cx="1440" cy="1118" r="15" fill="#E46C0A" stroke="#F79646" stroke-width="2"/>
<circle cx="1481" cy="1098" r="15" fill="#E46C0A" stroke="#F79646" stroke-width="2"/>
<circle cx="1527" cy="1059" r="15" fill="#E46C0A" stroke="#F79646" stroke-width="2"/>
<circle cx="1557" cy="1030" r="15" fill="#E46C0A" stroke="#F79646" stroke-width="2"/>
<circle cx="1602" cy="981" r="15" fill="#E46C0A" stroke="#F79646" stroke-width="2"/>
<circle cx="1643" cy="916" r="15" fill="#E46C0A" stroke="#F79646" stroke-width="2"/>
<circle cx="1684" cy="835" r="15" fill="#E46C0A" stroke="#F79646" stroke-width="2"/>
<circle cx="1726" cy="720" r="15" fill="#E46C0A" stroke="#F79646" stroke-width="2"/>
<circle cx="1766" cy="583" r="15" fill="#E46C0A" stroke="#F79646" stroke-width="2"/>
<circle cx="1798" cy="493" r="15" fill="#E46C0A" stroke="#F79646" stroke-width="2"/>
<circle cx="1812" cy="482" r="15" fill="#E46C0A" stroke="#F79646" stroke-width="2"/>
<circle cx="1824" cy="472" r="15" fill="#E46C0A" stroke="#F79646" stroke-width="2"/>
<circle cx="1836" cy="462" r="15" fill="#E46C0A" stroke="#F79646" stroke-width="2"/>
<circle cx="1848" cy="452" r="15" fill="#E46C0A" stroke="#F79646" stroke-width="2"/>
<circle cx="1860" cy="440" r="15" fill="#E46C0A" stroke="#F79646" stroke-width="2"/>
<circle cx="1880" cy="420" r="15" fill="#E46C0A" stroke="#F79646" stroke-width="2"/>
<circle cx="1895" cy="407" r="15" fill="#E46C0A" stroke="#F79646" stroke-width="2"/>
<circle cx="1905" cy="398" r="15" fill="#E46C0A" stroke="#F79646" stroke-width="2"/>
<circle cx="1913" cy="390" r="15" fill="#E46C0A" stroke="#F79646" stroke-width="2"/>
<circle cx="1920" cy="382" r="15" fill="#E46C0A" stroke="#F79646" stroke-width="2"/>
<circle cx="1926" cy="375" r="15" fill="#E46C0A" stroke="#F79646" stroke-width="2"/>
<circle cx="1930" cy="369" r="15" fill="#E46C0A" stroke="#F79646" stroke-width="2"/>
<path d="M1930 369 L1922 373 L1912 381 L1900 392 L1885 404 L1870 418 L1856 432 L1843 443 L1830 455 L1817 466 L1803 477 L1789 487 L1774 495 L1737 544 L1697 592 L1654 635 L1615 675 L1577 717 L1537 960 L1498 1031 L1458 1073 L1411 1111 L1376 1135 L1337 1160 L1294 1180 L1253 1199 L1211 1214 L1169 1229 L1129 1246 L1087 1261 L1051 1269 L1006 1283 L968 1292 L886 1311 L806 1332" fill="none" stroke="#F79646" stroke-width="10" stroke-linejoin="round" stroke-linecap="round"/>
<circle cx="1930" cy="369" r="15" fill="#E46C0A" stroke="#F79646" stroke-width="2"/>
<circle cx="1922" cy="373" r="15" fill="#E46C0A" stroke="#F79646" stroke-width="2"/>
<circle cx="1912" cy="381" r="15" fill="#E46C0A" stroke="#F79646" stroke-width="2"/>
<circle cx="1900" cy="392" r="15" fill="#E46C0A" stroke="#F79646" stroke-width="2"/>
<circle cx="1885" cy="404" r="15" fill="#E46C0A" stroke="#F79646" stroke-width="2"/>
<circle cx="1870" cy="418" r="15" fill="#E46C0A" stroke="#F79646" stroke-width="2"/>
<circle cx="1856" cy="432" r="15" fill="#E46C0A" stroke="#F79646" stroke-width="2"/>
<circle cx="1843" cy="443" r="15" fill="#E46C0A" stroke="#F79646" stroke-width="2"/>
<circle cx="1830" cy="455" r="15" fill="#E46C0A" stroke="#F79646" stroke-width="2"/>
<circle cx="1817" cy="466" r="15" fill="#E46C0A" stroke="#F79646" stroke-width="2"/>
<circle cx="1803" cy="477" r="15" fill="#E46C0A" stroke="#F79646" stroke-width="2"/>
<circle cx="1789" cy="487" r="15" fill="#E46C0A" stroke="#F79646" stroke-width="2"/>
<circle cx="1774" cy="495" r="15" fill="#E46C0A" stroke="#F79646" stroke-width="2"/>
<circle cx="1737" cy="544" r="15" fill="#E46C0A" stroke="#F79646" stroke-width="2"/>
<circle cx="1697" cy="592" r="15" fill="#E46C0A" stroke="#F79646" stroke-width="2"/>
<circle cx="1654" cy="635" r="15" fill="#E46C0A" stroke="#F79646" stroke-width="2"/>
<circle cx="1615" cy="675" r="15" fill="#E46C0A" stroke="#F79646" stroke-width="2"/>
<circle cx="1577" cy="717" r="15" fill="#E46C0A" stroke="#F79646" stroke-width="2"/>
<circle cx="1537" cy="960" r="15" fill="#E46C0A" stroke="#F79646" stroke-width="2"/>
<circle cx="1498" cy="1031" r="15" fill="#E46C0A" stroke="#F79646" stroke-width="2"/>
<circle cx="1458" cy="1073" r="15" fill="#E46C0A" stroke="#F79646" stroke-width="2"/>
<circle cx="1411" cy="1111" r="15" fill="#E46C0A" stroke="#F79646" stroke-width="2"/>
<circle cx="1376" cy="1135" r="15" fill="#E46C0A" stroke="#F79646" stroke-width="2"/>
<circle cx="1337" cy="1160" r="15" fill="#E46C0A" stroke="#F79646" stroke-width="2"/>
<circle cx="1294" cy="1180" r="15" fill="#E46C0A" stroke="#F79646" stroke-width="2"/>
<circle cx="1253" cy="1199" r="15" fill="#E46C0A" stroke="#F79646" stroke-width="2"/>
<circle cx="1211" cy="1214" r="15" fill="#E46C0A" stroke="#F79646" stroke-width="2"/>
<circle cx="1169" cy="1229" r="15" fill="#E46C0A" stroke="#F79646" stroke-width="2"/>
<circle cx="1129" cy="1246" r="15" fill="#E46C0A" stroke="#F79646" stroke-width="2"/>
<circle cx="1087" cy="1261" r="15" fill="#E46C0A" stroke="#F79646" stroke-width="2"/>
<circle cx="1051" cy="1269" r="15" fill="#E46C0A" stroke="#F79646" stroke-width="2"/>
<circle cx="1006" cy="1283" r="15" fill="#E46C0A" stroke="#F79646" stroke-width="2"/>
<circle cx="968" cy="1292" r="15" fill="#E46C0A" stroke="#F79646" stroke-width="2"/>
<circle cx="886" cy="1311" r="15" fill="#E46C0A" stroke="#F79646" stroke-width="2"/>
<circle cx="806" cy="1332" r="15" fill="#E46C0A" stroke="#F79646" stroke-width="2"/>
<path d="M311 1545 C311.3 1540.8 311.8 1527.5 313 1520 C314.2 1512.5 315.8 1505.5 318 1500 C320.2 1494.5 323 1490.8 326 1487 C329 1483.2 332.2 1479.8 336 1477 C339.8 1474.2 345.2 1471.8 349 1470 C352.8 1468.2 354.7 1467.8 359 1466 C363.3 1464.2 369.7 1461 375 1459 C380.3 1457 386 1456.2 391 1454 C396 1451.8 399.3 1448.2 405 1446 C410.7 1443.8 419.3 1442.7 425 1441 C430.7 1439.3 434.2 1437.5 439 1436 C443.8 1434.5 448.8 1433.5 454 1432 C459.2 1430.5 462 1429.2 470 1427 C478 1424.8 491.8 1421 502 1419 C512.2 1417 520.8 1416.8 531 1415 C541.2 1413.2 552.2 1410.5 563 1408 C573.8 1405.5 585 1402.3 596 1400 C607 1397.7 616.5 1396.3 629 1394 C641.5 1391.7 657 1388.5 671 1386 C685 1383.5 699 1381.8 713 1379 C727 1376.2 741.2 1371.8 755 1369 C768.8 1366.2 782.5 1364.2 796 1362 C809.5 1359.8 822.5 1358.2 836 1356 C849.5 1353.8 864.3 1351.2 877 1349 C889.7 1346.8 899.7 1345.5 912 1343 C924.3 1340.5 937.8 1336.7 951 1334 C964.2 1331.3 977.7 1329.5 991 1327 C1004.3 1324.5 1017.7 1321.8 1031 1319 C1044.3 1316.2 1057.5 1313 1071 1310 C1084.5 1307 1097.3 1304.2 1112 1301 C1126.7 1297.8 1145.2 1294.2 1159 1291 C1172.8 1287.8 1180.8 1285.5 1195 1282 C1209.2 1278.5 1229.3 1274.3 1244 1270 C1258.7 1265.7 1269.7 1260.2 1283 1256 C1296.3 1251.8 1310.8 1249 1324 1245 C1337.2 1241 1349 1236 1362 1232 C1375 1228 1395.3 1222.8 1402 1221" fill="none" stroke="#4A452A" stroke-width="5" stroke-linejoin="round" stroke-linecap="round"/>
<path d="M311 1530v30M296 1545h30" stroke="#4A452A" stroke-width="4" fill="none"/>
<path d="M313 1505v30M298 1520h30" stroke="#4A452A" stroke-width="4" fill="none"/>
<path d="M318 1485v30M303 1500h30" stroke="#4A452A" stroke-width="4" fill="none"/>
<path d="M326 1472v30M311 1487h30" stroke="#4A452A" stroke-width="4" fill="none"/>
<path d="M336 1462v30M321 1477h30" stroke="#4A452A" stroke-width="4" fill="none"/>
<path d="M349 1455v30M334 1470h30" stroke="#4A452A" stroke-width="4" fill="none"/>
<path d="M359 1451v30M344 1466h30" stroke="#4A452A" stroke-width="4" fill="none"/>
<path d="M375 1444v30M360 1459h30" stroke="#4A452A" stroke-width="4" fill="none"/>
<path d="M391 1439v30M376 1454h30" stroke="#4A452A" stroke-width="4" fill="none"/>
<path d="M405 1431v30M390 1446h30" stroke="#4A452A" stroke-width="4" fill="none"/>
<path d="M425 1426v30M410 1441h30" stroke="#4A452A" stroke-width="4" fill="none"/>
<path d="M439 1421v30M424 1436h30" stroke="#4A452A" stroke-width="4" fill="none"/>
<path d="M454 1417v30M439 1432h30" stroke="#4A452A" stroke-width="4" fill="none"/>
<path d="M470 1412v30M455 1427h30" stroke="#4A452A" stroke-width="4" fill="none"/>
<path d="M502 1404v30M487 1419h30" stroke="#4A452A" stroke-width="4" fill="none"/>
<path d="M531 1400v30M516 1415h30" stroke="#4A452A" stroke-width="4" fill="none"/>
<path d="M563 1393v30M548 1408h30" stroke="#4A452A" stroke-width="4" fill="none"/>
<path d="M596 1385v30M581 1400h30" stroke="#4A452A" stroke-width="4" fill="none"/>
<path d="M629 1379v30M614 1394h30" stroke="#4A452A" stroke-width="4" fill="none"/>
<path d="M671 1371v30M656 1386h30" stroke="#4A452A" stroke-width="4" fill="none"/>
<path d="M713 1364v30M698 1379h30" stroke="#4A452A" stroke-width="4" fill="none"/>
<path d="M755 1354v30M740 1369h30" stroke="#4A452A" stroke-width="4" fill="none"/>
<path d="M796 1347v30M781 1362h30" stroke="#4A452A" stroke-width="4" fill="none"/>
<path d="M836 1341v30M821 1356h30" stroke="#4A452A" stroke-width="4" fill="none"/>
<path d="M877 1334v30M862 1349h30" stroke="#4A452A" stroke-width="4" fill="none"/>
<path d="M912 1328v30M897 1343h30" stroke="#4A452A" stroke-width="4" fill="none"/>
<path d="M951 1319v30M936 1334h30" stroke="#4A452A" stroke-width="4" fill="none"/>
<path d="M991 1312v30M976 1327h30" stroke="#4A452A" stroke-width="4" fill="none"/>
<path d="M1031 1304v30M1016 1319h30" stroke="#4A452A" stroke-width="4" fill="none"/>
<path d="M1071 1295v30M1056 1310h30" stroke="#4A452A" stroke-width="4" fill="none"/>
<path d="M1112 1286v30M1097 1301h30" stroke="#4A452A" stroke-width="4" fill="none"/>
<path d="M1159 1276v30M1144 1291h30" stroke="#4A452A" stroke-width="4" fill="none"/>
<path d="M1195 1267v30M1180 1282h30" stroke="#4A452A" stroke-width="4" fill="none"/>
<path d="M1244 1255v30M1229 1270h30" stroke="#4A452A" stroke-width="4" fill="none"/>
<path d="M1283 1241v30M1268 1256h30" stroke="#4A452A" stroke-width="4" fill="none"/>
<path d="M1324 1230v30M1309 1245h30" stroke="#4A452A" stroke-width="4" fill="none"/>
<path d="M1362 1217v30M1347 1232h30" stroke="#4A452A" stroke-width="4" fill="none"/>
<path d="M1402 1206v30M1387 1221h30" stroke="#4A452A" stroke-width="4" fill="none"/>
<path d="M1927 505 C1925.2 505.5 1920.7 506.8 1916 508 C1911.3 509.2 1904.8 510 1899 512 C1893.2 514 1887.7 517.5 1881 520 C1874.3 522.5 1866 524.8 1859 527 C1852 529.2 1845.5 531 1839 533 C1832.5 535 1826.5 536.8 1820 539 C1813.5 541.2 1806.8 543.8 1800 546 C1793.2 548.2 1788.8 548.2 1779 552 C1769.2 555.8 1754.2 538 1741 569 C1727.8 600 1711.5 686.2 1700 738 C1688.5 789.8 1680.5 841 1672 880 C1663.5 919 1658.8 944.5 1649 972 C1639.2 999.5 1625.7 1024.7 1613 1045 C1600.3 1065.3 1585.3 1079.8 1573 1094 C1560.7 1108.2 1552.5 1117.2 1539 1130 C1525.5 1142.8 1507.3 1160.5 1492 1171 C1476.7 1181.5 1460.3 1186.5 1447 1193 C1433.7 1199.5 1424.3 1204.5 1412 1210 C1399.7 1215.5 1386.2 1220.8 1373 1226 C1359.8 1231.2 1346.8 1236.5 1333 1241 C1319.2 1245.5 1309.8 1247.3 1290 1253 C1270.2 1258.7 1234 1269.5 1214 1275 C1194 1280.5 1183.7 1282.5 1170 1286 C1156.3 1289.5 1144.8 1292.8 1132 1296 C1119.2 1299.2 1107.3 1301.8 1093 1305 C1078.7 1308.2 1068.2 1310.5 1046 1315 C1023.8 1319.5 974.3 1329.2 960 1332" fill="none" stroke="#4A452A" stroke-width="5" stroke-linejoin="round" stroke-linecap="round"/>
<path d="M1927 492.5v25M1914.5 505h25" stroke="#4A452A" stroke-width="3.6" fill="none"/>
<path d="M1916 495.5v25M1903.5 508h25" stroke="#4A452A" stroke-width="3.6" fill="none"/>
<path d="M1899 499.5v25M1886.5 512h25" stroke="#4A452A" stroke-width="3.6" fill="none"/>
<path d="M1881 507.5v25M1868.5 520h25" stroke="#4A452A" stroke-width="3.6" fill="none"/>
<path d="M1859 514.5v25M1846.5 527h25" stroke="#4A452A" stroke-width="3.6" fill="none"/>
<path d="M1839 520.5v25M1826.5 533h25" stroke="#4A452A" stroke-width="3.6" fill="none"/>
<path d="M1820 526.5v25M1807.5 539h25" stroke="#4A452A" stroke-width="3.6" fill="none"/>
<path d="M1800 533.5v25M1787.5 546h25" stroke="#4A452A" stroke-width="3.6" fill="none"/>
<path d="M1779 539.5v25M1766.5 552h25" stroke="#4A452A" stroke-width="3.6" fill="none"/>
<path d="M1741 556.5v25M1728.5 569h25" stroke="#4A452A" stroke-width="3.6" fill="none"/>
<path d="M1700 725.5v25M1687.5 738h25" stroke="#4A452A" stroke-width="3.6" fill="none"/>
<path d="M1649 959.5v25M1636.5 972h25" stroke="#4A452A" stroke-width="3.6" fill="none"/>
<path d="M1613 1032.5v25M1600.5 1045h25" stroke="#4A452A" stroke-width="3.6" fill="none"/>
<path d="M1573 1081.5v25M1560.5 1094h25" stroke="#4A452A" stroke-width="3.6" fill="none"/>
<path d="M1539 1117.5v25M1526.5 1130h25" stroke="#4A452A" stroke-width="3.6" fill="none"/>
<path d="M1492 1158.5v25M1479.5 1171h25" stroke="#4A452A" stroke-width="3.6" fill="none"/>
<path d="M1447 1180.5v25M1434.5 1193h25" stroke="#4A452A" stroke-width="3.6" fill="none"/>
<path d="M1412 1197.5v25M1399.5 1210h25" stroke="#4A452A" stroke-width="3.6" fill="none"/>
<path d="M1373 1213.5v25M1360.5 1226h25" stroke="#4A452A" stroke-width="3.6" fill="none"/>
<path d="M1333 1228.5v25M1320.5 1241h25" stroke="#4A452A" stroke-width="3.6" fill="none"/>
<path d="M1290 1240.5v25M1277.5 1253h25" stroke="#4A452A" stroke-width="3.6" fill="none"/>
<path d="M1214 1262.5v25M1201.5 1275h25" stroke="#4A452A" stroke-width="3.6" fill="none"/>
<path d="M1170 1273.5v25M1157.5 1286h25" stroke="#4A452A" stroke-width="3.6" fill="none"/>
<path d="M1132 1283.5v25M1119.5 1296h25" stroke="#4A452A" stroke-width="3.6" fill="none"/>
<path d="M1093 1292.5v25M1080.5 1305h25" stroke="#4A452A" stroke-width="3.6" fill="none"/>
<path d="M1046 1302.5v25M1033.5 1315h25" stroke="#4A452A" stroke-width="3.6" fill="none"/>
<path d="M960 1319.5v25M947.5 1332h25" stroke="#4A452A" stroke-width="3.6" fill="none"/>
<path d="M311 1585 C312 1581.8 313.8 1569.8 317 1566 C320.2 1562.2 322.2 1563.3 330 1562 C337.8 1560.7 352.3 1559.2 364 1558 C375.7 1556.8 385.7 1556.2 400 1555 C414.3 1553.8 433.3 1552.2 450 1551 C466.7 1549.8 483.3 1549 500 1548 C516.7 1547 533.3 1545.8 550 1545 C566.7 1544.2 583.3 1543.7 600 1543 C616.7 1542.3 633.3 1541.5 650 1541 C666.7 1540.5 687.5 1540.3 700 1540 C712.5 1539.7 700 1540.2 725 1539 C750 1537.8 808.5 1535 850 1533 C891.5 1531 946.8 1528.3 974 1527 C1001.2 1525.7 999.7 1525.7 1013 1525 C1026.3 1524.3 1041 1523.5 1054 1523 C1067 1522.5 1071.7 1522.7 1091 1522 C1110.3 1521.3 1149.8 1520.3 1170 1519 C1190.2 1517.7 1197 1515.3 1212 1514 C1227 1512.7 1246 1511.8 1260 1511 C1274 1510.2 1284.3 1509.7 1296 1509 C1307.7 1508.3 1319 1508.2 1330 1507 C1341 1505.8 1350 1503.5 1362 1502 C1374 1500.5 1388.7 1499.5 1402 1498 C1415.3 1496.5 1429 1494.7 1442 1493 C1455 1491.3 1466.7 1489.5 1480 1488 C1493.3 1486.5 1508.7 1485.7 1522 1484 C1535.3 1482.3 1547 1481 1560 1478 C1573 1475 1586.7 1470.7 1600 1466 C1613.3 1461.3 1628.3 1454.8 1640 1450 C1651.7 1445.2 1660 1443 1670 1437 C1680 1431 1692 1421.2 1700 1414 C1708 1406.8 1712.5 1402.7 1718 1394 C1723.5 1385.3 1728.3 1371.8 1733 1362 C1737.7 1352.2 1741.5 1345.3 1746 1335 C1750.5 1324.7 1754.2 1313.3 1760 1300 C1765.8 1286.7 1774.5 1271.8 1781 1255 C1787.5 1238.2 1792.8 1226.8 1799 1199 C1805.2 1171.2 1812.3 1119.2 1818 1088 C1823.7 1056.8 1829.2 1037 1833 1012 C1836.8 987 1837.8 960 1841 938 C1844.2 916 1848.2 909.5 1852 880 C1855.8 850.5 1858.8 805.8 1864 761 C1869.2 716.2 1877.3 647.8 1883 611 C1888.7 574.2 1893.2 558.2 1898 540 C1902.8 521.8 1909.7 508.3 1912 502" fill="none" stroke="#4F81BD" stroke-width="6" stroke-linejoin="round" stroke-linecap="round"/>
<rect x="301" y="1575" width="20" height="20" fill="#4F81BD"/>
<rect x="354" y="1548" width="20" height="20" fill="#4F81BD"/>
<rect x="390" y="1545" width="20" height="20" fill="#4F81BD"/>
<rect x="440" y="1541" width="20" height="20" fill="#4F81BD"/>
<rect x="490" y="1538" width="20" height="20" fill="#4F81BD"/>
<rect x="540" y="1535" width="20" height="20" fill="#4F81BD"/>
<rect x="590" y="1533" width="20" height="20" fill="#4F81BD"/>
<rect x="640" y="1531" width="20" height="20" fill="#4F81BD"/>
<rect x="690" y="1530" width="20" height="20" fill="#4F81BD"/>
<rect x="730" y="1528" width="20" height="20" fill="#4F81BD"/>
<rect x="780" y="1526" width="20" height="20" fill="#4F81BD"/>
<rect x="840" y="1523" width="20" height="20" fill="#4F81BD"/>
<rect x="900" y="1520" width="20" height="20" fill="#4F81BD"/>
<rect x="964" y="1517" width="20" height="20" fill="#4F81BD"/>
<rect x="1003" y="1515" width="20" height="20" fill="#4F81BD"/>
<rect x="1044" y="1513" width="20" height="20" fill="#4F81BD"/>
<rect x="1081" y="1512" width="20" height="20" fill="#4F81BD"/>
<rect x="1120" y="1510" width="20" height="20" fill="#4F81BD"/>
<rect x="1160" y="1509" width="20" height="20" fill="#4F81BD"/>
<rect x="1202" y="1504" width="20" height="20" fill="#4F81BD"/>
<rect x="1250" y="1501" width="20" height="20" fill="#4F81BD"/>
<rect x="1286" y="1499" width="20" height="20" fill="#4F81BD"/>
<rect x="1320" y="1497" width="20" height="20" fill="#4F81BD"/>
<rect x="1352" y="1492" width="20" height="20" fill="#4F81BD"/>
<rect x="1392" y="1488" width="20" height="20" fill="#4F81BD"/>
<rect x="1432" y="1483" width="20" height="20" fill="#4F81BD"/>
<rect x="1470" y="1478" width="20" height="20" fill="#4F81BD"/>
<rect x="1725" y="1347" width="20" height="20" fill="#4F81BD"/>
<rect x="1771" y="1245" width="20" height="20" fill="#4F81BD"/>
<rect x="1789" y="1189" width="20" height="20" fill="#4F81BD"/>
<rect x="1808" y="1078" width="20" height="20" fill="#4F81BD"/>
<rect x="1831" y="928" width="20" height="20" fill="#4F81BD"/>
<rect x="1854" y="751" width="20" height="20" fill="#4F81BD"/>
<rect x="1873" y="601" width="20" height="20" fill="#4F81BD"/>
<rect x="1902" y="492" width="20" height="20" fill="#4F81BD"/>
<path d="M1522 1486 C1528.3 1485.2 1547.2 1482.5 1560 1481 C1572.8 1479.5 1584.5 1480.3 1599 1477 C1613.5 1473.7 1632.3 1466.2 1647 1461 C1661.7 1455.8 1674.3 1451.5 1687 1446 C1699.7 1440.5 1709 1436.3 1723 1428 C1737 1419.7 1759.8 1404.8 1771 1396 C1782.2 1387.2 1783.7 1383.5 1790 1375 C1796.3 1366.5 1801.8 1360.8 1809 1345 C1816.2 1329.2 1827.3 1296.7 1833 1280 C1838.7 1263.3 1839.3 1259.7 1843 1245 C1846.7 1230.3 1851.7 1209.2 1855 1192 C1858.3 1174.8 1860.3 1162 1863 1142 C1865.7 1122 1867.2 1104 1871 1072 C1874.8 1040 1882.5 981.2 1886 950 C1889.5 918.8 1889.5 915.3 1892 885 C1894.5 854.7 1898.5 808.7 1901 768 C1903.5 727.3 1904.7 677 1907 641 C1909.3 605 1913.2 574.8 1915 552 C1916.8 529.2 1917.5 512 1918 504" fill="none" stroke="#376092" stroke-width="6" stroke-linejoin="round" stroke-linecap="round"/>
<rect x="1512" y="1476" width="20" height="20" fill="#376092"/>
<rect x="1550" y="1471" width="20" height="20" fill="#376092"/>
<rect x="1589" y="1467" width="20" height="20" fill="#376092"/>
<rect x="1637" y="1451" width="20" height="20" fill="#376092"/>
<rect x="1677" y="1436" width="20" height="20" fill="#376092"/>
<rect x="1713" y="1418" width="20" height="20" fill="#376092"/>
<rect x="1761" y="1386" width="20" height="20" fill="#376092"/>
<rect x="1799" y="1335" width="20" height="20" fill="#376092"/>
<rect x="1833" y="1235" width="20" height="20" fill="#376092"/>
<rect x="1853" y="1132" width="20" height="20" fill="#376092"/>
<rect x="1876" y="940" width="20" height="20" fill="#376092"/>
<rect x="1882" y="875" width="20" height="20" fill="#376092"/>
<rect x="1891" y="758" width="20" height="20" fill="#376092"/>
<rect x="1897" y="631" width="20" height="20" fill="#376092"/>
<path d="M311 1582 C312 1579.7 314.5 1571.2 317 1568 C319.5 1564.8 322.5 1564.3 326 1563 C329.5 1561.7 332.3 1561 338 1560 C343.7 1559 351.3 1558 360 1557 C368.7 1556 377.5 1555.2 390 1554 C402.5 1552.8 420 1551.2 435 1550 C450 1548.8 464.2 1548 480 1547 C495.8 1546 515 1545.2 530 1544 C545 1542.8 552.3 1541 570 1540 C587.7 1539 611.8 1538.7 636 1538 C660.2 1537.3 694.8 1536.7 715 1536 C735.2 1535.3 736.5 1534.8 757 1534 C777.5 1533.2 811.7 1532.2 838 1531 C864.3 1529.8 895 1528.2 915 1527 C935 1525.8 944.2 1524.8 958 1524 C971.8 1523.2 982.7 1522.5 998 1522 C1013.3 1521.5 1033 1521.3 1050 1521 C1067 1520.7 1080 1520.3 1100 1520 C1120 1519.7 1151.3 1519.8 1170 1519 C1188.7 1518.2 1197 1516.2 1212 1515 C1227 1513.8 1246 1512.8 1260 1512 C1274 1511.2 1284.3 1510.8 1296 1510 C1307.7 1509.2 1313.5 1508.7 1330 1507 C1346.5 1505.3 1377 1501.7 1395 1500 C1413 1498.3 1424.2 1498.5 1438 1497 C1451.8 1495.5 1464.2 1493.7 1478 1491 C1491.8 1488.3 1506.2 1484.2 1521 1481 C1535.8 1477.8 1550.2 1476 1567 1472 C1583.8 1468 1605.3 1462.5 1622 1457 C1638.7 1451.5 1654 1446.5 1667 1439 C1680 1431.5 1691.5 1419.7 1700 1412 C1708.5 1404.3 1712 1400.7 1718 1393 C1724 1385.3 1731 1372.7 1736 1366 C1741 1359.3 1744.7 1359.3 1748 1353 C1751.3 1346.7 1751 1340.7 1756 1328 C1761 1315.3 1773.2 1289.2 1778 1277 C1782.8 1264.8 1780.3 1269.2 1785 1255 C1789.7 1240.8 1799.7 1222.5 1806 1192 C1812.3 1161.5 1817.3 1116 1823 1072 C1828.7 1028 1836.5 960 1840 928 C1843.5 896 1840.5 912.2 1844 880 C1847.5 847.8 1855.2 785.7 1861 735 C1866.8 684.3 1873.3 615.3 1879 576 C1884.7 536.7 1890.3 518 1895 499 C1899.7 480 1905 468.2 1907 462" fill="none" stroke="#9BBB59" stroke-width="6" stroke-linejoin="round" stroke-linecap="round"/>
<path d="M311 1571.5L321.5 1590.5L300.5 1590.5Z" fill="#9BBB59"/>
<path d="M326 1552.5L336.5 1571.5L315.5 1571.5Z" fill="#9BBB59"/>
<path d="M345 1548.5L355.5 1567.5L334.5 1567.5Z" fill="#9BBB59"/>
<path d="M365 1546.5L375.5 1565.5L354.5 1565.5Z" fill="#9BBB59"/>
<path d="M390 1543.5L400.5 1562.5L379.5 1562.5Z" fill="#9BBB59"/>
<path d="M412 1541.5L422.5 1560.5L401.5 1560.5Z" fill="#9BBB59"/>
<path d="M435 1539.5L445.5 1558.5L424.5 1558.5Z" fill="#9BBB59"/>
<path d="M458 1537.5L468.5 1556.5L447.5 1556.5Z" fill="#9BBB59"/>
<path d="M480 1536.5L490.5 1555.5L469.5 1555.5Z" fill="#9BBB59"/>
<path d="M505 1534.5L515.5 1553.5L494.5 1553.5Z" fill="#9BBB59"/>
<path d="M530 1533.5L540.5 1552.5L519.5 1552.5Z" fill="#9BBB59"/>
<path d="M569 1529.5L579.5 1548.5L558.5 1548.5Z" fill="#9BBB59"/>
<path d="M602 1528.5L612.5 1547.5L591.5 1547.5Z" fill="#9BBB59"/>
<path d="M636 1527.5L646.5 1546.5L625.5 1546.5Z" fill="#9BBB59"/>
<path d="M675 1526.5L685.5 1545.5L664.5 1545.5Z" fill="#9BBB59"/>
<path d="M715 1525.5L725.5 1544.5L704.5 1544.5Z" fill="#9BBB59"/>
<path d="M757 1523.5L767.5 1542.5L746.5 1542.5Z" fill="#9BBB59"/>
<path d="M798 1521.5L808.5 1540.5L787.5 1540.5Z" fill="#9BBB59"/>
<path d="M838 1520.5L848.5 1539.5L827.5 1539.5Z" fill="#9BBB59"/>
<path d="M877 1518.5L887.5 1537.5L866.5 1537.5Z" fill="#9BBB59"/>
<path d="M915 1516.5L925.5 1535.5L904.5 1535.5Z" fill="#9BBB59"/>
<path d="M958 1513.5L968.5 1532.5L947.5 1532.5Z" fill="#9BBB59"/>
<path d="M998 1511.5L1008.5 1530.5L987.5 1530.5Z" fill="#9BBB59"/>
<path d="M1040 1510.5L1050.5 1529.5L1029.5 1529.5Z" fill="#9BBB59"/>
<path d="M1080 1509.5L1090.5 1528.5L1069.5 1528.5Z" fill="#9BBB59"/>
<path d="M1120 1509.5L1130.5 1528.5L1109.5 1528.5Z" fill="#9BBB59"/>
<path d="M1170 1508.5L1180.5 1527.5L1159.5 1527.5Z" fill="#9BBB59"/>
<path d="M1212 1504.5L1222.5 1523.5L1201.5 1523.5Z" fill="#9BBB59"/>
<path d="M1260 1501.5L1270.5 1520.5L1249.5 1520.5Z" fill="#9BBB59"/>
<path d="M1296 1499.5L1306.5 1518.5L1285.5 1518.5Z" fill="#9BBB59"/>
<path d="M1330 1496.5L1340.5 1515.5L1319.5 1515.5Z" fill="#9BBB59"/>
<path d="M1365 1492.5L1375.5 1511.5L1354.5 1511.5Z" fill="#9BBB59"/>
<path d="M1395 1489.5L1405.5 1508.5L1384.5 1508.5Z" fill="#9BBB59"/>
<path d="M1438 1486.5L1448.5 1505.5L1427.5 1505.5Z" fill="#9BBB59"/>
<path d="M1478 1480.5L1488.5 1499.5L1467.5 1499.5Z" fill="#9BBB59"/>
<path d="M1521 1470.5L1531.5 1489.5L1510.5 1489.5Z" fill="#9BBB59"/>
<path d="M1567 1461.5L1577.5 1480.5L1556.5 1480.5Z" fill="#9BBB59"/>
<path d="M1622 1446.5L1632.5 1465.5L1611.5 1465.5Z" fill="#9BBB59"/>
<path d="M1667 1428.5L1677.5 1447.5L1656.5 1447.5Z" fill="#9BBB59"/>
<path d="M1700 1401.5L1710.5 1420.5L1689.5 1420.5Z" fill="#9BBB59"/>
<path d="M1736 1355.5L1746.5 1374.5L1725.5 1374.5Z" fill="#9BBB59"/>
<path d="M1785 1258.5L1795.5 1277.5L1774.5 1277.5Z" fill="#9BBB59"/>
<path d="M1818 1081.5L1828.5 1100.5L1807.5 1100.5Z" fill="#9BBB59"/>
<path d="M1861 724.5L1871.5 743.5L1850.5 743.5Z" fill="#9BBB59"/>
<path d="M1907 451.6L1917.5 470.6L1896.5 470.6Z" fill="#9BBB59"/>
<path d="M1500 1489 C1510 1486.8 1542.2 1479.5 1560 1476 C1577.8 1472.5 1592.8 1470.8 1607 1468 C1621.2 1465.2 1632.5 1462.7 1645 1459 C1657.5 1455.3 1668 1451.8 1682 1446 C1696 1440.2 1714.2 1431.7 1729 1424 C1743.8 1416.3 1762.3 1406.3 1771 1400 C1779.7 1393.7 1776 1393.8 1781 1386 C1786 1378.2 1796 1360.7 1801 1353 C1806 1345.3 1807.5 1346.8 1811 1340 C1814.5 1333.2 1817.2 1325.2 1822 1312 C1826.8 1298.8 1833.8 1285 1840 1261 C1846.2 1237 1853 1203.5 1859 1168 C1865 1132.5 1870.7 1096 1876 1048 C1881.3 1000 1887.8 929.3 1891 880 C1894.2 830.7 1892.5 800.8 1895 752 C1897.5 703.2 1902.2 627.3 1906 587 C1909.8 546.7 1914.5 532 1918 510 C1921.5 488 1925.5 464.2 1927 455" fill="none" stroke="#77933C" stroke-width="6" stroke-linejoin="round" stroke-linecap="round"/>
<path d="M1607 1457.5L1617.5 1476.5L1596.5 1476.5Z" fill="#77933C"/>
<path d="M1645 1448.5L1655.5 1467.5L1634.5 1467.5Z" fill="#77933C"/>
<path d="M1682 1435.5L1692.5 1454.5L1671.5 1454.5Z" fill="#77933C"/>
<path d="M1729 1413.5L1739.5 1432.5L1718.5 1432.5Z" fill="#77933C"/>
<path d="M1771 1389.5L1781.5 1408.5L1760.5 1408.5Z" fill="#77933C"/>
<path d="M1809 1335.5L1819.5 1354.5L1798.5 1354.5Z" fill="#77933C"/>
<path d="M1846 1239.5L1856.5 1258.5L1835.5 1258.5Z" fill="#77933C"/>
<path d="M1885 956.5L1895.5 975.5L1874.5 975.5Z" fill="#77933C"/>
<path d="M1895 741.5L1905.5 760.5L1884.5 760.5Z" fill="#77933C"/>
<path d="M1906 576.5L1916.5 595.5L1895.5 595.5Z" fill="#77933C"/>
<path d="M1927 444.6L1937.5 463.6L1916.5 463.6Z" fill="#77933C"/>
<path d="M306 1596 C306.5 1594.7 307.7 1591 309 1588 C310.3 1585 311.8 1580.8 314 1578 C316.2 1575.2 318.5 1573 322 1571 C325.5 1569 328.7 1567.7 335 1566 C341.3 1564.3 349.2 1562.5 360 1561 C370.8 1559.5 385 1558 400 1557 C415 1556 433.3 1555.7 450 1555 C466.7 1554.3 485 1553.7 500 1553 C515 1552.3 526.7 1551.5 540 1551 C553.3 1550.5 567.7 1550.7 580 1550 C592.3 1549.3 602.2 1547.7 614 1547 C625.8 1546.3 638.2 1546.7 651 1546 C663.8 1545.3 677.7 1543.8 691 1543 C704.3 1542.2 716.2 1542 731 1541 C745.8 1540 763.5 1538.2 780 1537 C796.5 1535.8 813.3 1535.2 830 1534 C846.7 1532.8 861 1531.5 880 1530 C899 1528.5 924 1526.5 944 1525 C964 1523.5 980.7 1522.8 1000 1521 C1019.3 1519.2 1043.5 1515.7 1060 1514 C1076.5 1512.3 1087.3 1512 1099 1511 C1110.7 1510 1118.8 1508.7 1130 1508 C1141.2 1507.3 1153.7 1507.7 1166 1507 C1178.3 1506.3 1190.7 1505.2 1204 1504 C1217.3 1502.8 1232.3 1501.3 1246 1500 C1259.7 1498.7 1272.7 1497.5 1286 1496 C1299.3 1494.5 1312.5 1492.7 1326 1491 C1339.5 1489.3 1353 1488.2 1367 1486 C1381 1483.8 1396.5 1480.3 1410 1478 C1423.5 1475.7 1436.7 1473.5 1448 1472 C1459.3 1470.5 1466.3 1471.2 1478 1469 C1489.7 1466.8 1504.8 1462.8 1518 1459 C1531.2 1455.2 1543.2 1450 1557 1446 C1570.8 1442 1586 1440.3 1601 1435 C1616 1429.7 1632.3 1421.2 1647 1414 C1661.7 1406.8 1678.3 1396.8 1689 1392 C1699.7 1387.2 1702.5 1390 1711 1385 C1719.5 1380 1728.5 1365.7 1740 1362 C1751.5 1358.3 1766.7 1362.8 1780 1363 C1793.3 1363.2 1806.7 1363 1820 1363 C1833.3 1363 1846.7 1363 1860 1363 C1873.3 1363 1888 1363 1900 1363 C1912 1363 1926.7 1363 1932 1363" fill="none" stroke="#8064A2" stroke-width="6" stroke-linejoin="round" stroke-linecap="round"/>
<rect x="286" y="1589.8" width="40" height="12.5" fill="#8064A2"/>
<rect x="289" y="1581.8" width="40" height="12.5" fill="#8064A2"/>
<rect x="294" y="1571.8" width="40" height="12.5" fill="#8064A2"/>
<rect x="302" y="1564.8" width="40" height="12.5" fill="#8064A2"/>
<rect x="315" y="1559.8" width="40" height="12.5" fill="#8064A2"/>
<rect x="340" y="1554.8" width="40" height="12.5" fill="#8064A2"/>
<rect x="380" y="1550.8" width="40" height="12.5" fill="#8064A2"/>
<rect x="430" y="1548.8" width="40" height="12.5" fill="#8064A2"/>
<rect x="480" y="1546.8" width="40" height="12.5" fill="#8064A2"/>
<rect x="520" y="1544.8" width="40" height="12.5" fill="#8064A2"/>
<rect x="560" y="1543.8" width="40" height="12.5" fill="#8064A2"/>
<rect x="594" y="1540.8" width="40" height="12.5" fill="#8064A2"/>
<rect x="631" y="1539.8" width="40" height="12.5" fill="#8064A2"/>
<rect x="671" y="1536.8" width="40" height="12.5" fill="#8064A2"/>
<rect x="711" y="1534.8" width="40" height="12.5" fill="#8064A2"/>
<rect x="760" y="1530.8" width="40" height="12.5" fill="#8064A2"/>
<rect x="810" y="1527.8" width="40" height="12.5" fill="#8064A2"/>
<rect x="860" y="1523.8" width="40" height="12.5" fill="#8064A2"/>
<rect x="924" y="1518.8" width="40" height="12.5" fill="#8064A2"/>
<rect x="980" y="1514.8" width="40" height="12.5" fill="#8064A2"/>
<rect x="1040" y="1507.8" width="40" height="12.5" fill="#8064A2"/>
<rect x="1079" y="1504.8" width="40" height="12.5" fill="#8064A2"/>
<rect x="1110" y="1501.8" width="40" height="12.5" fill="#8064A2"/>
<rect x="1146" y="1500.8" width="40" height="12.5" fill="#8064A2"/>
<rect x="1184" y="1497.8" width="40" height="12.5" fill="#8064A2"/>
<rect x="1226" y="1493.8" width="40" height="12.5" fill="#8064A2"/>
<rect x="1266" y="1489.8" width="40" height="12.5" fill="#8064A2"/>
<rect x="1306" y="1484.8" width="40" height="12.5" fill="#8064A2"/>
<rect x="1347" y="1479.8" width="40" height="12.5" fill="#8064A2"/>
<rect x="1390" y="1471.8" width="40" height="12.5" fill="#8064A2"/>
<rect x="1428" y="1465.8" width="40" height="12.5" fill="#8064A2"/>
<rect x="1458" y="1462.8" width="40" height="12.5" fill="#8064A2"/>
<rect x="1498" y="1452.8" width="40" height="12.5" fill="#8064A2"/>
<rect x="1537" y="1439.8" width="40" height="12.5" fill="#8064A2"/>
<rect x="1581" y="1428.8" width="40" height="12.5" fill="#8064A2"/>
<rect x="1627" y="1407.8" width="40" height="12.5" fill="#8064A2"/>
<rect x="1669" y="1385.8" width="40" height="12.5" fill="#8064A2"/>
<rect x="1691" y="1378.8" width="40" height="12.5" fill="#8064A2"/>
<rect x="1720" y="1355.8" width="40" height="12.5" fill="#8064A2"/>
<rect x="1760" y="1356.8" width="40" height="12.5" fill="#8064A2"/>
<rect x="1800" y="1356.8" width="40" height="12.5" fill="#8064A2"/>
<rect x="1840" y="1356.8" width="40" height="12.5" fill="#8064A2"/>
<rect x="1880" y="1356.8" width="40" height="12.5" fill="#8064A2"/>
<rect x="1912" y="1356.8" width="40" height="12.5" fill="#8064A2"/>
<path d="M1932 1363 C1925.8 1363 1907.8 1363 1895 1363 C1882.2 1363 1868.3 1363 1855 1363 C1841.7 1363 1828.3 1363 1815 1363 C1801.7 1363 1788.3 1363 1775 1363 C1761.7 1363 1748.3 1363 1735 1363 C1721.7 1363 1708.3 1363 1695 1363 C1681.7 1363 1668.3 1363 1655 1363 C1641.7 1363 1626 1362.8 1615 1363 C1604 1363.2 1596.8 1363.8 1589 1364.5 C1581.2 1365.2 1577.2 1365.6 1568 1367 C1558.8 1368.4 1543.8 1363.8 1534 1373 C1524.2 1382.2 1515.8 1413.7 1509 1422 C1502.2 1430.3 1502.2 1418.8 1493 1423 C1483.8 1427.2 1467.5 1441 1454 1447 C1440.5 1453 1426.5 1454.7 1412 1459 C1397.5 1463.3 1381.5 1469 1367 1473 C1352.5 1477 1338.5 1480.2 1325 1483 C1311.5 1485.8 1299.2 1487.2 1286 1489.5 C1272.8 1491.8 1259.7 1495.1 1246 1497 C1232.3 1498.9 1217.3 1499.7 1204 1501 C1190.7 1502.3 1178.3 1503.8 1166 1505 C1153.7 1506.2 1136 1507.5 1130 1508" fill="none" stroke="#8064A2" stroke-width="6" stroke-linejoin="round" stroke-linecap="round"/>
<rect x="1912" y="1356.8" width="40" height="12.5" fill="#8064A2"/>
<rect x="1875" y="1356.8" width="40" height="12.5" fill="#8064A2"/>
<rect x="1835" y="1356.8" width="40" height="12.5" fill="#8064A2"/>
<rect x="1795" y="1356.8" width="40" height="12.5" fill="#8064A2"/>
<rect x="1755" y="1356.8" width="40" height="12.5" fill="#8064A2"/>
<rect x="1715" y="1356.8" width="40" height="12.5" fill="#8064A2"/>
<rect x="1675" y="1356.8" width="40" height="12.5" fill="#8064A2"/>
<rect x="1635" y="1356.8" width="40" height="12.5" fill="#8064A2"/>
<rect x="1595" y="1356.8" width="40" height="12.5" fill="#8064A2"/>
<rect x="1569" y="1358.2" width="40" height="12.5" fill="#8064A2"/>
<rect x="1548" y="1360.8" width="40" height="12.5" fill="#8064A2"/>
<rect x="1514" y="1366.8" width="40" height="12.5" fill="#8064A2"/>
<rect x="1489" y="1415.8" width="40" height="12.5" fill="#8064A2"/>
<rect x="1473" y="1416.8" width="40" height="12.5" fill="#8064A2"/>
<rect x="1434" y="1440.8" width="40" height="12.5" fill="#8064A2"/>
<rect x="1392" y="1452.8" width="40" height="12.5" fill="#8064A2"/>
<rect x="1347" y="1466.8" width="40" height="12.5" fill="#8064A2"/>
<rect x="1305" y="1476.8" width="40" height="12.5" fill="#8064A2"/>
<rect x="1266" y="1483.2" width="40" height="12.5" fill="#8064A2"/>
<rect x="1226" y="1490.8" width="40" height="12.5" fill="#8064A2"/>
<rect x="1184" y="1494.8" width="40" height="12.5" fill="#8064A2"/>
<rect x="1146" y="1498.8" width="40" height="12.5" fill="#8064A2"/>
<rect x="1110" y="1501.8" width="40" height="12.5" fill="#8064A2"/>
<path d="M311 1592 C311.8 1590.3 314 1584.8 316 1582 C318 1579.2 319.8 1576.8 323 1575 C326.2 1573.2 330.5 1572 335 1571 C339.5 1570 345 1569.7 350 1569 C355 1568.3 360 1567.5 365 1567 C370 1566.5 374.5 1566.3 380 1566 C385.5 1565.7 391.3 1565.5 398 1565 C404.7 1564.5 412.5 1563.5 420 1563 C427.5 1562.5 435.5 1562.5 443 1562 C450.5 1561.5 457.2 1560.7 465 1560 C472.8 1559.3 481.7 1558.5 490 1558 C498.3 1557.5 506.7 1557.5 515 1557 C523.3 1556.5 531.3 1555.7 540 1555 C548.7 1554.3 557.3 1553.7 567 1553 C576.7 1552.3 587.3 1551.7 598 1551 C608.7 1550.3 618.8 1549.7 631 1549 C643.2 1548.3 657.7 1547.7 671 1547 C684.3 1546.3 697.5 1546 711 1545 C724.5 1544 738.2 1542.1 752 1541 C765.8 1539.9 780.2 1539.1 794 1538.5 C807.8 1537.9 821.3 1538 835 1537.5 C848.7 1537 862.8 1536.4 876 1535.6 C889.2 1534.8 901.2 1533.4 914 1532.7 C926.8 1532 939.8 1531.9 953 1531.4 C966.2 1531 979.7 1531.1 993 1530 C1006.3 1528.9 1019.5 1526.2 1033 1525 C1046.5 1523.8 1060.8 1524 1074 1523 C1087.2 1522 1098.2 1519.8 1112 1519 C1125.8 1518.2 1143.3 1519.3 1157 1518.5 C1170.7 1517.7 1180 1515.8 1194 1514.4 C1208 1513 1226 1511.4 1241 1510.3 C1256 1509.2 1270 1509.2 1284 1507.8 C1298 1506.4 1312 1503.5 1325 1502 C1338 1500.5 1349.3 1500.5 1362 1499 C1374.7 1497.5 1387.5 1495.7 1401 1493 C1414.5 1490.3 1430.2 1485.7 1443 1483 C1455.8 1480.3 1464.8 1480.3 1478 1477 C1491.2 1473.7 1508.3 1466.3 1522 1463 C1535.7 1459.7 1546.8 1460.3 1560 1457 C1573.2 1453.7 1585.8 1448.8 1601 1443 C1616.2 1437.2 1636.3 1428.7 1651 1422 C1665.7 1415.3 1677 1407.8 1689 1403 C1701 1398.2 1711.2 1396.5 1723 1393 C1734.8 1389.5 1748.8 1384.2 1760 1382 C1771.2 1379.8 1780 1380.8 1790 1380 C1800 1379.2 1809 1377.5 1820 1377 C1831 1376.5 1845.2 1377.5 1856 1377 C1866.8 1376.5 1877.7 1374.5 1885 1374 C1892.3 1373.5 1895 1374 1900 1374 C1905 1374 1910.3 1374 1915 1374 C1919.7 1374 1925.8 1374 1928 1374" fill="none" stroke="#FFFF00" stroke-width="6" stroke-linejoin="round" stroke-linecap="round"/>
<rect x="300" y="1581" width="22" height="22" fill="#FFFF00"/>
<rect x="305" y="1571" width="22" height="22" fill="#FFFF00"/>
<rect x="312" y="1564" width="22" height="22" fill="#FFFF00"/>
<rect x="324" y="1560" width="22" height="22" fill="#FFFF00"/>
<rect x="339" y="1558" width="22" height="22" fill="#FFFF00"/>
<rect x="354" y="1556" width="22" height="22" fill="#FFFF00"/>
<rect x="369" y="1555" width="22" height="22" fill="#FFFF00"/>
<rect x="387" y="1554" width="22" height="22" fill="#FFFF00"/>
<rect x="409" y="1552" width="22" height="22" fill="#FFFF00"/>
<rect x="432" y="1551" width="22" height="22" fill="#FFFF00"/>
<rect x="454" y="1549" width="22" height="22" fill="#FFFF00"/>
<rect x="479" y="1547" width="22" height="22" fill="#FFFF00"/>
<rect x="504" y="1546" width="22" height="22" fill="#FFFF00"/>
<rect x="529" y="1544" width="22" height="22" fill="#FFFF00"/>
<rect x="556" y="1542" width="22" height="22" fill="#FFFF00"/>
<rect x="587" y="1540" width="22" height="22" fill="#FFFF00"/>
<rect x="620" y="1538" width="22" height="22" fill="#FFFF00"/>
<rect x="660" y="1536" width="22" height="22" fill="#FFFF00"/>
<rect x="700" y="1534" width="22" height="22" fill="#FFFF00"/>
<rect x="741" y="1530" width="22" height="22" fill="#FFFF00"/>
<rect x="783" y="1527.5" width="22" height="22" fill="#FFFF00"/>
<rect x="824" y="1526.5" width="22" height="22" fill="#FFFF00"/>
<rect x="865" y="1524.6" width="22" height="22" fill="#FFFF00"/>
<rect x="903" y="1521.7" width="22" height="22" fill="#FFFF00"/>
<rect x="942" y="1520.4" width="22" height="22" fill="#FFFF00"/>
<rect x="982" y="1519" width="22" height="22" fill="#FFFF00"/>
<rect x="1022" y="1514" width="22" height="22" fill="#FFFF00"/>
<rect x="1063" y="1512" width="22" height="22" fill="#FFFF00"/>
<rect x="1101" y="1508" width="22" height="22" fill="#FFFF00"/>
<rect x="1146" y="1507.5" width="22" height="22" fill="#FFFF00"/>
<rect x="1183" y="1503.4" width="22" height="22" fill="#FFFF00"/>
<rect x="1230" y="1499.3" width="22" height="22" fill="#FFFF00"/>
<rect x="1273" y="1496.8" width="22" height="22" fill="#FFFF00"/>
<rect x="1314" y="1491" width="22" height="22" fill="#FFFF00"/>
<rect x="1351" y="1488" width="22" height="22" fill="#FFFF00"/>
<rect x="1390" y="1482" width="22" height="22" fill="#FFFF00"/>
<rect x="1432" y="1472" width="22" height="22" fill="#FFFF00"/>
<rect x="1467" y="1466" width="22" height="22" fill="#FFFF00"/>
<rect x="1511" y="1452" width="22" height="22" fill="#FFFF00"/>
<rect x="1549" y="1446" width="22" height="22" fill="#FFFF00"/>
<rect x="1590" y="1432" width="22" height="22" fill="#FFFF00"/>
<rect x="1640" y="1411" width="22" height="22" fill="#FFFF00"/>
<rect x="1678" y="1392" width="22" height="22" fill="#FFFF00"/>
<rect x="1712" y="1382" width="22" height="22" fill="#FFFF00"/>
<rect x="1749" y="1371" width="22" height="22" fill="#FFFF00"/>
<rect x="1779" y="1369" width="22" height="22" fill="#FFFF00"/>
<rect x="1809" y="1366" width="22" height="22" fill="#FFFF00"/>
<rect x="1845" y="1366" width="22" height="22" fill="#FFFF00"/>
<rect x="1874" y="1363" width="22" height="22" fill="#FFFF00"/>
<rect x="1889" y="1363" width="22" height="22" fill="#FFFF00"/>
<rect x="1904" y="1363" width="22" height="22" fill="#FFFF00"/>
<rect x="1917" y="1363" width="22" height="22" fill="#FFFF00"/>
<path d="M1936 1378 C1930 1378 1912.7 1378 1900 1378 C1887.3 1378 1873.3 1378 1860 1378 C1846.7 1378 1833.3 1378 1820 1378 C1806.7 1378 1793.3 1378 1780 1378 C1766.7 1378 1754.8 1378 1740 1378 C1725.2 1378 1705.8 1378 1691 1378 C1676.2 1378 1664.2 1378 1651 1378 C1637.8 1378 1625.3 1378 1612 1378 C1598.7 1378 1584.3 1378.2 1571 1378 C1557.7 1377.8 1544 1369.7 1532 1377 C1520 1384.3 1514.5 1409 1499 1422 C1483.5 1435 1454 1447.7 1439 1455 C1424 1462.3 1420.3 1462.3 1409 1466 C1397.7 1469.7 1385.5 1474.2 1371 1477 C1356.5 1479.8 1335 1481.2 1322 1483 C1309 1484.8 1304.5 1486.2 1293 1488 C1281.5 1489.8 1267.7 1492.2 1253 1494 C1238.3 1495.8 1219.2 1497.2 1205 1499 C1190.8 1500.8 1181.2 1503.2 1168 1505 C1154.8 1506.8 1139 1508.3 1126 1510 C1113 1511.7 1096 1514.2 1090 1515" fill="none" stroke="#FFFF00" stroke-width="7" stroke-linejoin="round" stroke-linecap="round"/>
<path d="M1926.5 1368.5l19 19M1926.5 1387.5l19 -19M1936 1368.5v19" stroke="#FFFF00" stroke-width="3" fill="none"/>
<path d="M1890.5 1368.5l19 19M1890.5 1387.5l19 -19M1900 1368.5v19" stroke="#FFFF00" stroke-width="3" fill="none"/>
<path d="M1850.5 1368.5l19 19M1850.5 1387.5l19 -19M1860 1368.5v19" stroke="#FFFF00" stroke-width="3" fill="none"/>
<path d="M1810.5 1368.5l19 19M1810.5 1387.5l19 -19M1820 1368.5v19" stroke="#FFFF00" stroke-width="3" fill="none"/>
<path d="M1770.5 1368.5l19 19M1770.5 1387.5l19 -19M1780 1368.5v19" stroke="#FFFF00" stroke-width="3" fill="none"/>
<path d="M1730.5 1368.5l19 19M1730.5 1387.5l19 -19M1740 1368.5v19" stroke="#FFFF00" stroke-width="3" fill="none"/>
<path d="M1681.5 1368.5l19 19M1681.5 1387.5l19 -19M1691 1368.5v19" stroke="#FFFF00" stroke-width="3" fill="none"/>
<path d="M1641.5 1368.5l19 19M1641.5 1387.5l19 -19M1651 1368.5v19" stroke="#FFFF00" stroke-width="3" fill="none"/>
<path d="M1602.5 1368.5l19 19M1602.5 1387.5l19 -19M1612 1368.5v19" stroke="#FFFF00" stroke-width="3" fill="none"/>
<path d="M1561.5 1368.5l19 19M1561.5 1387.5l19 -19M1571 1368.5v19" stroke="#FFFF00" stroke-width="3" fill="none"/>
<path d="M1522.5 1367.5l19 19M1522.5 1386.5l19 -19M1532 1367.5v19" stroke="#FFFF00" stroke-width="3" fill="none"/>
<path d="M1489.5 1412.5l19 19M1489.5 1431.5l19 -19M1499 1412.5v19" stroke="#FFFF00" stroke-width="3" fill="none"/>
<path d="M1429.5 1445.5l19 19M1429.5 1464.5l19 -19M1439 1445.5v19" stroke="#FFFF00" stroke-width="3" fill="none"/>
<path d="M1399.5 1456.5l19 19M1399.5 1475.5l19 -19M1409 1456.5v19" stroke="#FFFF00" stroke-width="3" fill="none"/>
<path d="M1361.5 1467.5l19 19M1361.5 1486.5l19 -19M1371 1467.5v19" stroke="#FFFF00" stroke-width="3" fill="none"/>
<path d="M1312.5 1473.5l19 19M1312.5 1492.5l19 -19M1322 1473.5v19" stroke="#FFFF00" stroke-width="3" fill="none"/>
<path d="M1283.5 1478.5l19 19M1283.5 1497.5l19 -19M1293 1478.5v19" stroke="#FFFF00" stroke-width="3" fill="none"/>
<path d="M1243.5 1484.5l19 19M1243.5 1503.5l19 -19M1253 1484.5v19" stroke="#FFFF00" stroke-width="3" fill="none"/>
<path d="M1195.5 1489.5l19 19M1195.5 1508.5l19 -19M1205 1489.5v19" stroke="#FFFF00" stroke-width="3" fill="none"/>
<path d="M1158.5 1495.5l19 19M1158.5 1514.5l19 -19M1168 1495.5v19" stroke="#FFFF00" stroke-width="3" fill="none"/>
<path d="M1116.5 1500.5l19 19M1116.5 1519.5l19 -19M1126 1500.5v19" stroke="#FFFF00" stroke-width="3" fill="none"/>
<path d="M1080.5 1505.5l19 19M1080.5 1524.5l19 -19M1090 1505.5v19" stroke="#FFFF00" stroke-width="3" fill="none"/>
<path d="M311 1597 L316 1597 L322 1597 L329 1597 L337 1597 L345 1597 L351 1597 L357 1597 L365 1597 L374 1597 L405 1597 L441 1597 L478 1597 L535 1597 L569 1597 L603 1597 L635 1597 L666 1597 L708 1597 L747 1597 L770 1597 L787 1597 L827 1597 L846 1597 L869 1597 L907 1597 L928 1597 L948 1597 L970 1597 L990 1597 L1009 1597 L1032 1597 L1051 1597 L1074 1597 L1093 1597 L1111.7 1597 L1131.1 1597 L1152.5 1597 L1171.9 1597 L1193.3 1597 L1212.8 1597 L1234.1 1597 L1255.5 1597 L1276.9 1597 L1294.4 1597 L1315.8 1597 L1335.2 1597 L1356.6 1597 L1376 1597 L1397.4 1597 L1414.9 1597 L1436.3 1597 L1455.7 1597 L1477.1 1597 L1496.6 1597 L1518 1597 L1537.4 1597 L1558.8 1597 L1578.2 1597 L1599.6 1597 L1619 1597 L1638.5 1597 L1650.2 1597 L1659.8 1597 L1687.1 1597 L1698.8 1597 L1761 1597 L1800 1597 L1815.7 1597 L1831.3 1597 L1843 1597 L1881.5 1597 L1893.1 1597 L1924.3 1597" fill="none" stroke="#C0504D" stroke-width="6" stroke-linejoin="round" stroke-linecap="round"/>
<path d="M311 1579.5L326 1597L311 1614.5L296 1597Z" fill="#C0504D"/>
<path d="M316 1579.5L331 1597L316 1614.5L301 1597Z" fill="#C0504D"/>
<path d="M322 1579.5L337 1597L322 1614.5L307 1597Z" fill="#C0504D"/>
<path d="M329 1579.5L344 1597L329 1614.5L314 1597Z" fill="#C0504D"/>
<path d="M337 1579.5L352 1597L337 1614.5L322 1597Z" fill="#C0504D"/>
<path d="M345 1579.5L360 1597L345 1614.5L330 1597Z" fill="#C0504D"/>
<path d="M351 1579.5L366 1597L351 1614.5L336 1597Z" fill="#C0504D"/>
<path d="M357 1579.5L372 1597L357 1614.5L342 1597Z" fill="#C0504D"/>
<path d="M365 1579.5L380 1597L365 1614.5L350 1597Z" fill="#C0504D"/>
<path d="M374 1579.5L389 1597L374 1614.5L359 1597Z" fill="#C0504D"/>
<path d="M405 1579.5L420 1597L405 1614.5L390 1597Z" fill="#C0504D"/>
<path d="M441 1579.5L456 1597L441 1614.5L426 1597Z" fill="#C0504D"/>
<path d="M478 1579.5L493 1597L478 1614.5L463 1597Z" fill="#C0504D"/>
<path d="M535 1579.5L550 1597L535 1614.5L520 1597Z" fill="#C0504D"/>
<path d="M569 1579.5L584 1597L569 1614.5L554 1597Z" fill="#C0504D"/>
<path d="M603 1579.5L618 1597L603 1614.5L588 1597Z" fill="#C0504D"/>
<path d="M635 1579.5L650 1597L635 1614.5L620 1597Z" fill="#C0504D"/>
<path d="M666 1579.5L681 1597L666 1614.5L651 1597Z" fill="#C0504D"/>
<path d="M708 1579.5L723 1597L708 1614.5L693 1597Z" fill="#C0504D"/>
<path d="M747 1579.5L762 1597L747 1614.5L732 1597Z" fill="#C0504D"/>
<path d="M770 1579.5L785 1597L770 1614.5L755 1597Z" fill="#C0504D"/>
<path d="M787 1579.5L802 1597L787 1614.5L772 1597Z" fill="#C0504D"/>
<path d="M827 1579.5L842 1597L827 1614.5L812 1597Z" fill="#C0504D"/>
<path d="M846 1579.5L861 1597L846 1614.5L831 1597Z" fill="#C0504D"/>
<path d="M869 1579.5L884 1597L869 1614.5L854 1597Z" fill="#C0504D"/>
<path d="M907 1579.5L922 1597L907 1614.5L892 1597Z" fill="#C0504D"/>
<path d="M928 1579.5L943 1597L928 1614.5L913 1597Z" fill="#C0504D"/>
<path d="M948 1579.5L963 1597L948 1614.5L933 1597Z" fill="#C0504D"/>
<path d="M970 1579.5L985 1597L970 1614.5L955 1597Z" fill="#C0504D"/>
<path d="M990 1579.5L1005 1597L990 1614.5L975 1597Z" fill="#C0504D"/>
<path d="M1009 1579.5L1024 1597L1009 1614.5L994 1597Z" fill="#C0504D"/>
<path d="M1032 1579.5L1047 1597L1032 1614.5L1017 1597Z" fill="#C0504D"/>
<path d="M1051 1579.5L1066 1597L1051 1614.5L1036 1597Z" fill="#C0504D"/>
<path d="M1074 1579.5L1089 1597L1074 1614.5L1059 1597Z" fill="#C0504D"/>
<path d="M1093 1579.5L1108 1597L1093 1614.5L1078 1597Z" fill="#C0504D"/>
<path d="M1111.7 1579.5L1126.7 1597L1111.7 1614.5L1096.7 1597Z" fill="#C0504D"/>
<path d="M1131.1 1579.5L1146.1 1597L1131.1 1614.5L1116.1 1597Z" fill="#C0504D"/>
<path d="M1152.5 1579.5L1167.5 1597L1152.5 1614.5L1137.5 1597Z" fill="#C0504D"/>
<path d="M1171.9 1579.5L1186.9 1597L1171.9 1614.5L1156.9 1597Z" fill="#C0504D"/>
<path d="M1193.3 1579.5L1208.3 1597L1193.3 1614.5L1178.3 1597Z" fill="#C0504D"/>
<path d="M1212.8 1579.5L1227.8 1597L1212.8 1614.5L1197.8 1597Z" fill="#C0504D"/>
<path d="M1234.1 1579.5L1249.1 1597L1234.1 1614.5L1219.1 1597Z" fill="#C0504D"/>
<path d="M1255.5 1579.5L1270.5 1597L1255.5 1614.5L1240.5 1597Z" fill="#C0504D"/>
<path d="M1276.9 1579.5L1291.9 1597L1276.9 1614.5L1261.9 1597Z" fill="#C0504D"/>
<path d="M1294.4 1579.5L1309.4 1597L1294.4 1614.5L1279.4 1597Z" fill="#C0504D"/>
<path d="M1315.8 1579.5L1330.8 1597L1315.8 1614.5L1300.8 1597Z" fill="#C0504D"/>
<path d="M1335.2 1579.5L1350.2 1597L1335.2 1614.5L1320.2 1597Z" fill="#C0504D"/>
<path d="M1356.6 1579.5L1371.6 1597L1356.6 1614.5L1341.6 1597Z" fill="#C0504D"/>
<path d="M1376 1579.5L1391 1597L1376 1614.5L1361 1597Z" fill="#C0504D"/>
<path d="M1397.4 1579.5L1412.4 1597L1397.4 1614.5L1382.4 1597Z" fill="#C0504D"/>
<path d="M1414.9 1579.5L1429.9 1597L1414.9 1614.5L1399.9 1597Z" fill="#C0504D"/>
<path d="M1436.3 1579.5L1451.3 1597L1436.3 1614.5L1421.3 1597Z" fill="#C0504D"/>
<path d="M1455.7 1579.5L1470.7 1597L1455.7 1614.5L1440.7 1597Z" fill="#C0504D"/>
<path d="M1477.1 1579.5L1492.1 1597L1477.1 1614.5L1462.1 1597Z" fill="#C0504D"/>
<path d="M1496.6 1579.5L1511.6 1597L1496.6 1614.5L1481.6 1597Z" fill="#C0504D"/>
<path d="M1518 1579.5L1533 1597L1518 1614.5L1503 1597Z" fill="#C0504D"/>
<path d="M1537.4 1579.5L1552.4 1597L1537.4 1614.5L1522.4 1597Z" fill="#C0504D"/>
<path d="M1558.8 1579.5L1573.8 1597L1558.8 1614.5L1543.8 1597Z" fill="#C0504D"/>
<path d="M1578.2 1579.5L1593.2 1597L1578.2 1614.5L1563.2 1597Z" fill="#C0504D"/>
<path d="M1599.6 1579.5L1614.6 1597L1599.6 1614.5L1584.6 1597Z" fill="#C0504D"/>
<path d="M1619 1579.5L1634 1597L1619 1614.5L1604 1597Z" fill="#C0504D"/>
<path d="M1638.5 1579.5L1653.5 1597L1638.5 1614.5L1623.5 1597Z" fill="#C0504D"/>
<path d="M1650.2 1579.5L1665.2 1597L1650.2 1614.5L1635.2 1597Z" fill="#C0504D"/>
<path d="M1659.8 1579.5L1674.8 1597L1659.8 1614.5L1644.8 1597Z" fill="#C0504D"/>
<path d="M1687.1 1579.5L1702.1 1597L1687.1 1614.5L1672.1 1597Z" fill="#C0504D"/>
<path d="M1698.8 1579.5L1713.8 1597L1698.8 1614.5L1683.8 1597Z" fill="#C0504D"/>
<path d="M1761 1579.5L1776 1597L1761 1614.5L1746 1597Z" fill="#C0504D"/>
<path d="M1800 1579.5L1815 1597L1800 1614.5L1785 1597Z" fill="#C0504D"/>
<path d="M1815.7 1579.5L1830.7 1597L1815.7 1614.5L1800.7 1597Z" fill="#C0504D"/>
<path d="M1831.3 1579.5L1846.3 1597L1831.3 1614.5L1816.3 1597Z" fill="#C0504D"/>
<path d="M1843 1579.5L1858 1597L1843 1614.5L1828 1597Z" fill="#C0504D"/>
<path d="M1881.5 1579.5L1896.5 1597L1881.5 1614.5L1866.5 1597Z" fill="#C0504D"/>
<path d="M1893.1 1579.5L1908.1 1597L1893.1 1614.5L1878.1 1597Z" fill="#C0504D"/>
<path d="M1924.3 1579.5L1939.3 1597L1924.3 1614.5L1909.3 1597Z" fill="#C0504D"/>
<path d="M768 1598.5 L1938 1598.5" fill="none" stroke="#93CDDD" stroke-width="11" stroke-linejoin="round" stroke-linecap="round"/>
<line x1="1999" y1="137" x2="2088" y2="137" stroke="#F79646" stroke-width="10" stroke-linecap="round"/>
<circle cx="2043.5" cy="137" r="15.5" fill="#E46C0A" stroke="#F79646" stroke-width="2"/>
<text x="2095" y="153.3" font-size="55.7">SIL2</text>
<line x1="1999" y1="222.2" x2="2088" y2="222.2" stroke="#4A452A" stroke-width="5" stroke-linecap="round"/>
<path d="M2043.5 207.2v30M2028.5 222.2h30" stroke="#4A452A" stroke-width="4" fill="none"/>
<text x="2095" y="238.6" font-size="55.7">Zn-SIL1</text>
<line x1="1999" y1="307.5" x2="2088" y2="307.5" stroke="#E6B9B8" stroke-width="10" stroke-linecap="round"/>
<path d="M2027.5 291.5l32 32M2027.5 323.5l32 -32" stroke="#95B3D7" stroke-width="3.2" fill="none"/>
<text x="2095" y="323.8" font-size="55.7">SIL1</text>
<line x1="1999" y1="392.8" x2="2088" y2="392.8" stroke="#4F81BD" stroke-width="6" stroke-linecap="round"/>
<rect x="2033.5" y="382.8" width="20" height="20" fill="#4F81BD"/>
<text x="2095" y="409.1" font-size="55.7">Zn-ALG</text>
<line x1="1999" y1="478" x2="2088" y2="478" stroke="#9BBB59" stroke-width="6" stroke-linecap="round"/>
<path d="M2043.5 467.6L2054 486.6L2033 486.6Z" fill="#9BBB59"/>
<text x="2095" y="494.3" font-size="55.7">ALG</text>
<line x1="1999" y1="563.2" x2="2088" y2="563.2" stroke="#8064A2" stroke-width="6" stroke-linecap="round"/>
<rect x="2023.5" y="557" width="40" height="12.5" fill="#8064A2"/>
<text x="2095" y="579.5" font-size="55.7">Zn-SIL2</text>
<line x1="1999" y1="648.5" x2="2088" y2="648.5" stroke="#FFFF00" stroke-width="6" stroke-linecap="round"/>
<rect x="2032.5" y="637.5" width="22" height="22" fill="#FFFF00"/>
<text x="2095" y="664.8" font-size="55.7">Zn-IL-SIL2</text>
<line x1="1999" y1="733.8" x2="2088" y2="733.8" stroke="#C0504D" stroke-width="12" stroke-linecap="round"/>
<path d="M2043.5 716.8L2056 733.8L2043.5 750.8L2031 733.8Z" fill="#C0504D"/>
<text x="2095" y="750" font-size="55.7">Zn-IL-ALG</text>
<line x1="1999" y1="819" x2="2088" y2="819" stroke="#93CDDD" stroke-width="11.5" stroke-linecap="round"/>
<text x="2095" y="835.3" font-size="55.7">IL-ALG</text>
</svg></body></html>
